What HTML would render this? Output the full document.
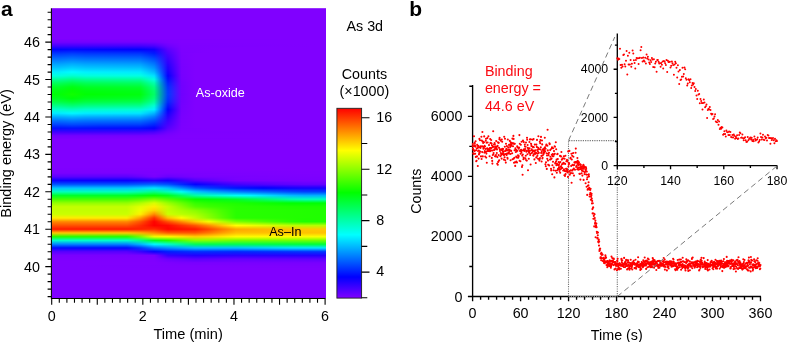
<!DOCTYPE html><html><head><meta charset="utf-8"><title>XPS As 3d depth profile</title>
<style>html,body{margin:0;padding:0;background:#fff}svg{display:block}text{font-family:"Liberation Sans", sans-serif;fill:#000}</style></head><body>
<svg width="787" height="342" viewBox="0 0 787 342">
<defs><linearGradient id="cb" x1="0" y1="0" x2="0" y2="1"><stop offset="0" stop-color="#ff0000"/><stop offset="0.2222" stop-color="#ffff00"/><stop offset="0.4444" stop-color="#00ff00"/><stop offset="0.6667" stop-color="#00ffff"/><stop offset="0.8889" stop-color="#0000ff"/><stop offset="1" stop-color="#8000ff"/></linearGradient>
<linearGradient id="g0"><stop offset="0.0239" stop-color="#7c00ff"/><stop offset="0.9718" stop-color="#8000ff"/></linearGradient><linearGradient id="g1"><stop offset="0.0239" stop-color="#7900ff"/><stop offset="0.3731" stop-color="#7a00ff"/><stop offset="0.4729" stop-color="#8000ff"/><stop offset="0.9718" stop-color="#8000ff"/></linearGradient><linearGradient id="g2"><stop offset="0.0239" stop-color="#7500ff"/><stop offset="0.3731" stop-color="#7700ff"/><stop offset="0.4729" stop-color="#8000ff"/><stop offset="0.9718" stop-color="#8000ff"/></linearGradient><linearGradient id="g3"><stop offset="0.0239" stop-color="#6f00ff"/><stop offset="0.3232" stop-color="#6f00ff"/><stop offset="0.3731" stop-color="#7100ff"/><stop offset="0.423" stop-color="#7b00ff"/><stop offset="0.4729" stop-color="#8000ff"/><stop offset="0.9718" stop-color="#8000ff"/></linearGradient><linearGradient id="g4"><stop offset="0.0239" stop-color="#6200ff"/><stop offset="0.3232" stop-color="#6200ff"/><stop offset="0.3731" stop-color="#6600ff"/><stop offset="0.423" stop-color="#7700ff"/><stop offset="0.4729" stop-color="#7f00ff"/><stop offset="0.9718" stop-color="#8000ff"/></linearGradient><linearGradient id="g5"><stop offset="0.0239" stop-color="#5500ff"/><stop offset="0.3232" stop-color="#5500ff"/><stop offset="0.3731" stop-color="#5b00ff"/><stop offset="0.423" stop-color="#7300ff"/><stop offset="0.4729" stop-color="#7f00ff"/><stop offset="0.9718" stop-color="#8000ff"/></linearGradient><linearGradient id="g6"><stop offset="0.0239" stop-color="#4800ff"/><stop offset="0.3232" stop-color="#4900ff"/><stop offset="0.3731" stop-color="#5000ff"/><stop offset="0.423" stop-color="#6f00ff"/><stop offset="0.4729" stop-color="#7e00ff"/><stop offset="0.9718" stop-color="#8000ff"/></linearGradient><linearGradient id="g7"><stop offset="0.0239" stop-color="#3801ff"/><stop offset="0.3232" stop-color="#3900ff"/><stop offset="0.3731" stop-color="#4200ff"/><stop offset="0.423" stop-color="#6b00ff"/><stop offset="0.4729" stop-color="#7e00ff"/><stop offset="0.9718" stop-color="#8000ff"/></linearGradient><linearGradient id="g8"><stop offset="0.0239" stop-color="#2602ff"/><stop offset="0.1236" stop-color="#2602ff"/><stop offset="0.3232" stop-color="#2701ff"/><stop offset="0.3731" stop-color="#3200ff"/><stop offset="0.423" stop-color="#6500ff"/><stop offset="0.4729" stop-color="#7e00ff"/><stop offset="0.7223" stop-color="#8000ff"/><stop offset="0.9718" stop-color="#8000ff"/></linearGradient><linearGradient id="g9"><stop offset="0.0239" stop-color="#1403ff"/><stop offset="0.0737" stop-color="#1406ff"/><stop offset="0.3232" stop-color="#1501ff"/><stop offset="0.3731" stop-color="#2200ff"/><stop offset="0.423" stop-color="#5f00ff"/><stop offset="0.4729" stop-color="#7d00ff"/><stop offset="0.6225" stop-color="#8000ff"/><stop offset="0.9718" stop-color="#8000ff"/></linearGradient><linearGradient id="g10"><stop offset="0.0239" stop-color="#0204ff"/><stop offset="0.0737" stop-color="#0209ff"/><stop offset="0.1735" stop-color="#0204ff"/><stop offset="0.3232" stop-color="#0202ff"/><stop offset="0.3731" stop-color="#1200ff"/><stop offset="0.423" stop-color="#5a00ff"/><stop offset="0.4729" stop-color="#7d00ff"/><stop offset="0.6225" stop-color="#8000ff"/><stop offset="0.9718" stop-color="#8000ff"/></linearGradient><linearGradient id="g11"><stop offset="0.0239" stop-color="#000fff"/><stop offset="0.0737" stop-color="#0015ff"/><stop offset="0.1735" stop-color="#000fff"/><stop offset="0.3232" stop-color="#000dff"/><stop offset="0.3731" stop-color="#0c06ff"/><stop offset="0.423" stop-color="#5600ff"/><stop offset="0.4729" stop-color="#7d00ff"/><stop offset="0.5726" stop-color="#8000ff"/><stop offset="0.9718" stop-color="#8000ff"/></linearGradient><linearGradient id="g12"><stop offset="0.0239" stop-color="#001cff"/><stop offset="0.0737" stop-color="#0022ff"/><stop offset="0.1735" stop-color="#001cff"/><stop offset="0.3232" stop-color="#001aff"/><stop offset="0.3731" stop-color="#080dff"/><stop offset="0.423" stop-color="#5200ff"/><stop offset="0.4729" stop-color="#7d00ff"/><stop offset="0.5726" stop-color="#8000ff"/><stop offset="0.9718" stop-color="#8000ff"/></linearGradient><linearGradient id="g13"><stop offset="0.0239" stop-color="#0029ff"/><stop offset="0.0737" stop-color="#002fff"/><stop offset="0.1236" stop-color="#002aff"/><stop offset="0.3232" stop-color="#0027ff"/><stop offset="0.3731" stop-color="#0414ff"/><stop offset="0.423" stop-color="#4e00ff"/><stop offset="0.4729" stop-color="#7c00ff"/><stop offset="0.5726" stop-color="#8000ff"/><stop offset="0.9718" stop-color="#8000ff"/></linearGradient><linearGradient id="g14"><stop offset="0.0239" stop-color="#0035ff"/><stop offset="0.0737" stop-color="#003cff"/><stop offset="0.1236" stop-color="#0036ff"/><stop offset="0.3232" stop-color="#0033ff"/><stop offset="0.3731" stop-color="#001bff"/><stop offset="0.423" stop-color="#4b00ff"/><stop offset="0.4729" stop-color="#7c00ff"/><stop offset="0.5228" stop-color="#8000ff"/><stop offset="0.9718" stop-color="#8000ff"/></linearGradient><linearGradient id="g15"><stop offset="0.0239" stop-color="#0040ff"/><stop offset="0.0737" stop-color="#0047ff"/><stop offset="0.1236" stop-color="#0041ff"/><stop offset="0.3232" stop-color="#003eff"/><stop offset="0.3731" stop-color="#0024ff"/><stop offset="0.423" stop-color="#4700ff"/><stop offset="0.4729" stop-color="#7c00ff"/><stop offset="0.5228" stop-color="#8000ff"/><stop offset="0.9718" stop-color="#8000ff"/></linearGradient><linearGradient id="g16"><stop offset="0.0239" stop-color="#004bff"/><stop offset="0.0737" stop-color="#0052ff"/><stop offset="0.1236" stop-color="#004cff"/><stop offset="0.3232" stop-color="#0048ff"/><stop offset="0.3731" stop-color="#002dff"/><stop offset="0.423" stop-color="#4400ff"/><stop offset="0.4729" stop-color="#7b00ff"/><stop offset="0.5228" stop-color="#8000ff"/><stop offset="0.9718" stop-color="#8000ff"/></linearGradient><linearGradient id="g17"><stop offset="0.0239" stop-color="#0055ff"/><stop offset="0.0737" stop-color="#005dff"/><stop offset="0.1236" stop-color="#0056ff"/><stop offset="0.3232" stop-color="#0053ff"/><stop offset="0.3731" stop-color="#0036ff"/><stop offset="0.423" stop-color="#4100ff"/><stop offset="0.4729" stop-color="#7b00ff"/><stop offset="0.5228" stop-color="#8000ff"/><stop offset="0.9718" stop-color="#8000ff"/></linearGradient><linearGradient id="g18"><stop offset="0.0239" stop-color="#0060ff"/><stop offset="0.0737" stop-color="#0068ff"/><stop offset="0.1236" stop-color="#0061ff"/><stop offset="0.3232" stop-color="#005dff"/><stop offset="0.3731" stop-color="#003fff"/><stop offset="0.423" stop-color="#3e00ff"/><stop offset="0.4729" stop-color="#7b00ff"/><stop offset="0.5228" stop-color="#8000ff"/><stop offset="0.9718" stop-color="#8000ff"/></linearGradient><linearGradient id="g19"><stop offset="0.0239" stop-color="#006aff"/><stop offset="0.0737" stop-color="#0072ff"/><stop offset="0.1236" stop-color="#006bff"/><stop offset="0.3232" stop-color="#0067ff"/><stop offset="0.3731" stop-color="#0048ff"/><stop offset="0.423" stop-color="#3b00ff"/><stop offset="0.4729" stop-color="#7b00ff"/><stop offset="0.5228" stop-color="#8000ff"/><stop offset="0.9718" stop-color="#8000ff"/></linearGradient><linearGradient id="g20"><stop offset="0.0239" stop-color="#0074ff"/><stop offset="0.0737" stop-color="#007dff"/><stop offset="0.1236" stop-color="#0075ff"/><stop offset="0.3232" stop-color="#0071ff"/><stop offset="0.3731" stop-color="#0050ff"/><stop offset="0.423" stop-color="#3800ff"/><stop offset="0.4729" stop-color="#7a00ff"/><stop offset="0.5228" stop-color="#8000ff"/><stop offset="0.9718" stop-color="#8000ff"/></linearGradient><linearGradient id="g21"><stop offset="0.0239" stop-color="#007eff"/><stop offset="0.0737" stop-color="#0087ff"/><stop offset="0.1236" stop-color="#007fff"/><stop offset="0.3232" stop-color="#007aff"/><stop offset="0.3731" stop-color="#0059ff"/><stop offset="0.423" stop-color="#3500ff"/><stop offset="0.4729" stop-color="#7a00ff"/><stop offset="0.5228" stop-color="#8000ff"/><stop offset="0.9718" stop-color="#8000ff"/></linearGradient><linearGradient id="g22"><stop offset="0.0239" stop-color="#0088ff"/><stop offset="0.0737" stop-color="#0092ff"/><stop offset="0.1236" stop-color="#008aff"/><stop offset="0.3232" stop-color="#0084ff"/><stop offset="0.3731" stop-color="#0061ff"/><stop offset="0.423" stop-color="#3200ff"/><stop offset="0.4729" stop-color="#7a00ff"/><stop offset="0.5228" stop-color="#8000ff"/><stop offset="0.9718" stop-color="#8000ff"/></linearGradient><linearGradient id="g23"><stop offset="0.0239" stop-color="#0092ff"/><stop offset="0.0737" stop-color="#009cff"/><stop offset="0.1236" stop-color="#0094ff"/><stop offset="0.3232" stop-color="#008eff"/><stop offset="0.3731" stop-color="#006aff"/><stop offset="0.423" stop-color="#2f00ff"/><stop offset="0.4729" stop-color="#7a00ff"/><stop offset="0.5228" stop-color="#8000ff"/><stop offset="0.9718" stop-color="#8000ff"/></linearGradient><linearGradient id="g24"><stop offset="0.0239" stop-color="#009cff"/><stop offset="0.0737" stop-color="#00a7ff"/><stop offset="0.1236" stop-color="#009eff"/><stop offset="0.3232" stop-color="#0098ff"/><stop offset="0.3731" stop-color="#0072ff"/><stop offset="0.423" stop-color="#2c00ff"/><stop offset="0.4729" stop-color="#7900ff"/><stop offset="0.5228" stop-color="#8000ff"/><stop offset="0.9718" stop-color="#8000ff"/></linearGradient><linearGradient id="g25"><stop offset="0.0239" stop-color="#00a6ff"/><stop offset="0.0737" stop-color="#00b1ff"/><stop offset="0.1236" stop-color="#00a8ff"/><stop offset="0.3232" stop-color="#00a2ff"/><stop offset="0.3731" stop-color="#007aff"/><stop offset="0.423" stop-color="#2800ff"/><stop offset="0.4729" stop-color="#7900ff"/><stop offset="0.5228" stop-color="#8000ff"/><stop offset="0.9718" stop-color="#8000ff"/></linearGradient><linearGradient id="g26"><stop offset="0.0239" stop-color="#00afff"/><stop offset="0.0737" stop-color="#00baff"/><stop offset="0.1236" stop-color="#00b1ff"/><stop offset="0.3232" stop-color="#00abff"/><stop offset="0.3731" stop-color="#0082ff"/><stop offset="0.423" stop-color="#2600ff"/><stop offset="0.4729" stop-color="#7900ff"/><stop offset="0.5228" stop-color="#8000ff"/><stop offset="0.9718" stop-color="#8000ff"/></linearGradient><linearGradient id="g27"><stop offset="0.0239" stop-color="#00b8ff"/><stop offset="0.0737" stop-color="#00c4ff"/><stop offset="0.1236" stop-color="#00baff"/><stop offset="0.3232" stop-color="#00b4ff"/><stop offset="0.3731" stop-color="#008aff"/><stop offset="0.423" stop-color="#2300ff"/><stop offset="0.4729" stop-color="#7800ff"/><stop offset="0.5228" stop-color="#8000ff"/><stop offset="0.9718" stop-color="#8000ff"/></linearGradient><linearGradient id="g28"><stop offset="0.0239" stop-color="#00c1ff"/><stop offset="0.0737" stop-color="#00cdff"/><stop offset="0.1236" stop-color="#00c3ff"/><stop offset="0.3232" stop-color="#00bdff"/><stop offset="0.3731" stop-color="#0091ff"/><stop offset="0.423" stop-color="#2000ff"/><stop offset="0.4729" stop-color="#7800ff"/><stop offset="0.5228" stop-color="#8000ff"/><stop offset="0.9718" stop-color="#8000ff"/></linearGradient><linearGradient id="g29"><stop offset="0.0239" stop-color="#00cbff"/><stop offset="0.0737" stop-color="#00d7ff"/><stop offset="0.1236" stop-color="#00cdff"/><stop offset="0.3232" stop-color="#00c7ff"/><stop offset="0.3731" stop-color="#0099ff"/><stop offset="0.423" stop-color="#1e00ff"/><stop offset="0.4729" stop-color="#7800ff"/><stop offset="0.5228" stop-color="#8000ff"/><stop offset="0.9718" stop-color="#8000ff"/></linearGradient><linearGradient id="g30"><stop offset="0.0239" stop-color="#00d4ff"/><stop offset="0.0737" stop-color="#00e1ff"/><stop offset="0.1236" stop-color="#00d6ff"/><stop offset="0.3232" stop-color="#00d0ff"/><stop offset="0.3731" stop-color="#00a2ff"/><stop offset="0.423" stop-color="#1b00ff"/><stop offset="0.4729" stop-color="#7800ff"/><stop offset="0.5228" stop-color="#8000ff"/><stop offset="0.9718" stop-color="#8000ff"/></linearGradient><linearGradient id="g31"><stop offset="0.0239" stop-color="#00deff"/><stop offset="0.0737" stop-color="#00ebff"/><stop offset="0.1236" stop-color="#00e0ff"/><stop offset="0.3232" stop-color="#00daff"/><stop offset="0.3731" stop-color="#00aaff"/><stop offset="0.423" stop-color="#1800ff"/><stop offset="0.4729" stop-color="#7700ff"/><stop offset="0.5228" stop-color="#8000ff"/><stop offset="0.9718" stop-color="#8000ff"/></linearGradient><linearGradient id="g32"><stop offset="0.0239" stop-color="#00e8ff"/><stop offset="0.0737" stop-color="#00f6ff"/><stop offset="0.1236" stop-color="#00eaff"/><stop offset="0.3232" stop-color="#00e3ff"/><stop offset="0.3731" stop-color="#00b3ff"/><stop offset="0.423" stop-color="#1500ff"/><stop offset="0.4729" stop-color="#7700ff"/><stop offset="0.5228" stop-color="#8000ff"/><stop offset="0.9718" stop-color="#8000ff"/></linearGradient><linearGradient id="g33"><stop offset="0.0239" stop-color="#00f0fb"/><stop offset="0.0737" stop-color="#00fcfa"/><stop offset="0.1236" stop-color="#00f2fb"/><stop offset="0.3232" stop-color="#00ebfc"/><stop offset="0.3731" stop-color="#00bdff"/><stop offset="0.423" stop-color="#1100ff"/><stop offset="0.4729" stop-color="#7700ff"/><stop offset="0.5228" stop-color="#8000ff"/><stop offset="0.9718" stop-color="#8000ff"/></linearGradient><linearGradient id="g34"><stop offset="0.0239" stop-color="#00f4f3"/><stop offset="0.0737" stop-color="#00fded"/><stop offset="0.1236" stop-color="#00f6f2"/><stop offset="0.3232" stop-color="#00f1f5"/><stop offset="0.3731" stop-color="#00c8ff"/><stop offset="0.423" stop-color="#0e00ff"/><stop offset="0.4729" stop-color="#7700ff"/><stop offset="0.5228" stop-color="#8000ff"/><stop offset="0.9718" stop-color="#8000ff"/></linearGradient><linearGradient id="g35"><stop offset="0.0239" stop-color="#00f9ea"/><stop offset="0.0737" stop-color="#00fee1"/><stop offset="0.1236" stop-color="#00fae8"/><stop offset="0.3232" stop-color="#00f7ee"/><stop offset="0.3731" stop-color="#00d3ff"/><stop offset="0.423" stop-color="#0a00ff"/><stop offset="0.4729" stop-color="#7600ff"/><stop offset="0.5228" stop-color="#8000ff"/><stop offset="0.9718" stop-color="#8000ff"/></linearGradient><linearGradient id="g36"><stop offset="0.0239" stop-color="#00fee2"/><stop offset="0.0737" stop-color="#00ffd4"/><stop offset="0.1236" stop-color="#00fedf"/><stop offset="0.3232" stop-color="#00fde6"/><stop offset="0.3731" stop-color="#00deff"/><stop offset="0.423" stop-color="#0600ff"/><stop offset="0.4729" stop-color="#7600ff"/><stop offset="0.5228" stop-color="#8000ff"/><stop offset="0.9718" stop-color="#8000ff"/></linearGradient><linearGradient id="g37"><stop offset="0.0239" stop-color="#00ffd2"/><stop offset="0.0737" stop-color="#00ffc2"/><stop offset="0.1236" stop-color="#00ffcf"/><stop offset="0.3232" stop-color="#00ffd7"/><stop offset="0.3731" stop-color="#00e7f9"/><stop offset="0.423" stop-color="#0403ff"/><stop offset="0.4729" stop-color="#7600ff"/><stop offset="0.5228" stop-color="#8000ff"/><stop offset="0.9718" stop-color="#8000ff"/></linearGradient><linearGradient id="g38"><stop offset="0.0239" stop-color="#00ffbe"/><stop offset="0.0737" stop-color="#00ffae"/><stop offset="0.1236" stop-color="#00ffbb"/><stop offset="0.3232" stop-color="#00ffc3"/><stop offset="0.3731" stop-color="#00eff0"/><stop offset="0.423" stop-color="#0308ff"/><stop offset="0.4729" stop-color="#7500ff"/><stop offset="0.5228" stop-color="#8000ff"/><stop offset="0.9718" stop-color="#8000ff"/></linearGradient><linearGradient id="g39"><stop offset="0.0239" stop-color="#00ffaa"/><stop offset="0.0737" stop-color="#00ff99"/><stop offset="0.1236" stop-color="#00ffa7"/><stop offset="0.3232" stop-color="#00ffb0"/><stop offset="0.3731" stop-color="#00f7e7"/><stop offset="0.423" stop-color="#010cff"/><stop offset="0.4729" stop-color="#7500ff"/><stop offset="0.5228" stop-color="#8000ff"/><stop offset="0.9718" stop-color="#8000ff"/></linearGradient><linearGradient id="g40"><stop offset="0.0239" stop-color="#00ff96"/><stop offset="0.0737" stop-color="#00ff84"/><stop offset="0.1236" stop-color="#00ff93"/><stop offset="0.3232" stop-color="#00ff9c"/><stop offset="0.3731" stop-color="#00fedf"/><stop offset="0.423" stop-color="#0011ff"/><stop offset="0.4729" stop-color="#7400ff"/><stop offset="0.5228" stop-color="#8000ff"/><stop offset="0.9718" stop-color="#8000ff"/></linearGradient><linearGradient id="g41"><stop offset="0.0239" stop-color="#00ff86"/><stop offset="0.0737" stop-color="#00ff73"/><stop offset="0.1236" stop-color="#00ff83"/><stop offset="0.3232" stop-color="#00ff8c"/><stop offset="0.3731" stop-color="#00ffd1"/><stop offset="0.423" stop-color="#0015ff"/><stop offset="0.4729" stop-color="#7400ff"/><stop offset="0.5228" stop-color="#8000ff"/><stop offset="0.9718" stop-color="#8000ff"/></linearGradient><linearGradient id="g42"><stop offset="0.0239" stop-color="#00ff75"/><stop offset="0.0737" stop-color="#00ff62"/><stop offset="0.1236" stop-color="#00ff72"/><stop offset="0.3232" stop-color="#00ff7b"/><stop offset="0.3731" stop-color="#00ffc3"/><stop offset="0.423" stop-color="#001aff"/><stop offset="0.4729" stop-color="#7300ff"/><stop offset="0.5228" stop-color="#8000ff"/><stop offset="0.9718" stop-color="#8000ff"/></linearGradient><linearGradient id="g43"><stop offset="0.0239" stop-color="#00ff65"/><stop offset="0.0737" stop-color="#00ff51"/><stop offset="0.1236" stop-color="#00ff61"/><stop offset="0.3232" stop-color="#00ff6b"/><stop offset="0.3731" stop-color="#00ffb4"/><stop offset="0.423" stop-color="#001fff"/><stop offset="0.4729" stop-color="#7200ff"/><stop offset="0.5228" stop-color="#8000ff"/><stop offset="0.9718" stop-color="#8000ff"/></linearGradient><linearGradient id="g44"><stop offset="0.0239" stop-color="#00ff56"/><stop offset="0.0737" stop-color="#00ff41"/><stop offset="0.1236" stop-color="#00ff52"/><stop offset="0.3232" stop-color="#00ff5c"/><stop offset="0.3731" stop-color="#00ffa7"/><stop offset="0.423" stop-color="#0024ff"/><stop offset="0.4729" stop-color="#7200ff"/><stop offset="0.5228" stop-color="#8000ff"/><stop offset="0.9718" stop-color="#8000ff"/></linearGradient><linearGradient id="g45"><stop offset="0.0239" stop-color="#00ff49"/><stop offset="0.0737" stop-color="#00ff34"/><stop offset="0.1236" stop-color="#00ff45"/><stop offset="0.3232" stop-color="#00ff50"/><stop offset="0.3731" stop-color="#00ff9d"/><stop offset="0.423" stop-color="#0027ff"/><stop offset="0.4729" stop-color="#7200ff"/><stop offset="0.5228" stop-color="#8000ff"/><stop offset="0.9718" stop-color="#8000ff"/></linearGradient><linearGradient id="g46"><stop offset="0.0239" stop-color="#00ff3c"/><stop offset="0.0737" stop-color="#00ff27"/><stop offset="0.1236" stop-color="#00ff39"/><stop offset="0.3232" stop-color="#00ff44"/><stop offset="0.3731" stop-color="#00ff92"/><stop offset="0.423" stop-color="#002bff"/><stop offset="0.4729" stop-color="#7100ff"/><stop offset="0.5228" stop-color="#8000ff"/><stop offset="0.9718" stop-color="#8000ff"/></linearGradient><linearGradient id="g47"><stop offset="0.0239" stop-color="#00ff30"/><stop offset="0.0737" stop-color="#00ff1a"/><stop offset="0.1236" stop-color="#00ff2d"/><stop offset="0.2733" stop-color="#00ff34"/><stop offset="0.3232" stop-color="#00ff38"/><stop offset="0.3731" stop-color="#00ff88"/><stop offset="0.423" stop-color="#002fff"/><stop offset="0.4729" stop-color="#7100ff"/><stop offset="0.5228" stop-color="#8000ff"/><stop offset="0.9718" stop-color="#8000ff"/></linearGradient><linearGradient id="g48"><stop offset="0.0239" stop-color="#00ff26"/><stop offset="0.0737" stop-color="#01ff11"/><stop offset="0.1236" stop-color="#00ff23"/><stop offset="0.2733" stop-color="#00ff2a"/><stop offset="0.3232" stop-color="#00ff2e"/><stop offset="0.3731" stop-color="#00ff7f"/><stop offset="0.423" stop-color="#0032ff"/><stop offset="0.4729" stop-color="#7100ff"/><stop offset="0.5228" stop-color="#8000ff"/><stop offset="0.9718" stop-color="#8000ff"/></linearGradient><linearGradient id="g49"><stop offset="0.0239" stop-color="#00ff20"/><stop offset="0.0737" stop-color="#02ff0c"/><stop offset="0.1236" stop-color="#00ff1c"/><stop offset="0.2733" stop-color="#00ff23"/><stop offset="0.3232" stop-color="#00ff27"/><stop offset="0.3731" stop-color="#00ff7a"/><stop offset="0.423" stop-color="#0034ff"/><stop offset="0.4729" stop-color="#7100ff"/><stop offset="0.5228" stop-color="#8000ff"/><stop offset="0.9718" stop-color="#8000ff"/></linearGradient><linearGradient id="g50"><stop offset="0.0239" stop-color="#00ff19"/><stop offset="0.0737" stop-color="#04ff07"/><stop offset="0.1236" stop-color="#00ff16"/><stop offset="0.3232" stop-color="#00ff21"/><stop offset="0.3731" stop-color="#00ff74"/><stop offset="0.423" stop-color="#0036ff"/><stop offset="0.4729" stop-color="#7100ff"/><stop offset="0.5228" stop-color="#8000ff"/><stop offset="0.9718" stop-color="#8000ff"/></linearGradient><linearGradient id="g51"><stop offset="0.0239" stop-color="#00ff13"/><stop offset="0.0737" stop-color="#06ff01"/><stop offset="0.1236" stop-color="#00ff0f"/><stop offset="0.3232" stop-color="#00ff1a"/><stop offset="0.3731" stop-color="#00ff6f"/><stop offset="0.423" stop-color="#0037ff"/><stop offset="0.4729" stop-color="#7100ff"/><stop offset="0.5228" stop-color="#8000ff"/><stop offset="0.9718" stop-color="#8000ff"/></linearGradient><linearGradient id="g52"><stop offset="0.0239" stop-color="#00ff0f"/><stop offset="0.0737" stop-color="#08ff00"/><stop offset="0.1236" stop-color="#00ff0b"/><stop offset="0.3232" stop-color="#00ff16"/><stop offset="0.3731" stop-color="#00ff6b"/><stop offset="0.423" stop-color="#0039ff"/><stop offset="0.4729" stop-color="#7100ff"/><stop offset="0.5228" stop-color="#8000ff"/><stop offset="0.9718" stop-color="#8000ff"/></linearGradient><linearGradient id="g53"><stop offset="0.0239" stop-color="#00ff0d"/><stop offset="0.0737" stop-color="#0aff00"/><stop offset="0.1236" stop-color="#00ff09"/><stop offset="0.3232" stop-color="#00ff14"/><stop offset="0.3731" stop-color="#00ff69"/><stop offset="0.423" stop-color="#0039ff"/><stop offset="0.4729" stop-color="#7100ff"/><stop offset="0.5228" stop-color="#8000ff"/><stop offset="0.9718" stop-color="#8000ff"/></linearGradient><linearGradient id="g54"><stop offset="0.0239" stop-color="#00ff0a"/><stop offset="0.0737" stop-color="#0dff00"/><stop offset="0.1236" stop-color="#00ff06"/><stop offset="0.3232" stop-color="#00ff12"/><stop offset="0.3731" stop-color="#00ff67"/><stop offset="0.423" stop-color="#003aff"/><stop offset="0.4729" stop-color="#7000ff"/><stop offset="0.5228" stop-color="#8000ff"/><stop offset="0.9718" stop-color="#8000ff"/></linearGradient><linearGradient id="g55"><stop offset="0.0239" stop-color="#00ff08"/><stop offset="0.0737" stop-color="#0fff00"/><stop offset="0.1236" stop-color="#00ff04"/><stop offset="0.3232" stop-color="#00ff10"/><stop offset="0.3731" stop-color="#00ff65"/><stop offset="0.423" stop-color="#003bff"/><stop offset="0.4729" stop-color="#7000ff"/><stop offset="0.5228" stop-color="#8000ff"/><stop offset="0.9718" stop-color="#8000ff"/></linearGradient><linearGradient id="g56"><stop offset="0.0239" stop-color="#00ff0d"/><stop offset="0.0737" stop-color="#0bff02"/><stop offset="0.1236" stop-color="#00ff0a"/><stop offset="0.2733" stop-color="#00ff11"/><stop offset="0.3232" stop-color="#00ff15"/><stop offset="0.3731" stop-color="#00ff6a"/><stop offset="0.423" stop-color="#0039ff"/><stop offset="0.4729" stop-color="#7000ff"/><stop offset="0.5228" stop-color="#8000ff"/><stop offset="0.9718" stop-color="#8000ff"/></linearGradient><linearGradient id="g57"><stop offset="0.0239" stop-color="#00ff13"/><stop offset="0.0737" stop-color="#07ff04"/><stop offset="0.1236" stop-color="#00ff10"/><stop offset="0.2733" stop-color="#00ff17"/><stop offset="0.3232" stop-color="#00ff1b"/><stop offset="0.3731" stop-color="#00ff6f"/><stop offset="0.423" stop-color="#0038ff"/><stop offset="0.4729" stop-color="#7100ff"/><stop offset="0.5228" stop-color="#8000ff"/><stop offset="0.9718" stop-color="#8000ff"/></linearGradient><linearGradient id="g58"><stop offset="0.0239" stop-color="#00ff19"/><stop offset="0.0737" stop-color="#03ff06"/><stop offset="0.1236" stop-color="#00ff15"/><stop offset="0.2733" stop-color="#00ff1d"/><stop offset="0.3232" stop-color="#00ff21"/><stop offset="0.3731" stop-color="#00ff74"/><stop offset="0.423" stop-color="#0036ff"/><stop offset="0.4729" stop-color="#7100ff"/><stop offset="0.5228" stop-color="#8000ff"/><stop offset="0.9718" stop-color="#8000ff"/></linearGradient><linearGradient id="g59"><stop offset="0.0239" stop-color="#00ff20"/><stop offset="0.0737" stop-color="#00ff0a"/><stop offset="0.1236" stop-color="#00ff1d"/><stop offset="0.2733" stop-color="#00ff24"/><stop offset="0.3232" stop-color="#00ff28"/><stop offset="0.3731" stop-color="#00ff7a"/><stop offset="0.423" stop-color="#0034ff"/><stop offset="0.4729" stop-color="#7100ff"/><stop offset="0.5228" stop-color="#8000ff"/><stop offset="0.9718" stop-color="#8000ff"/></linearGradient><linearGradient id="g60"><stop offset="0.0239" stop-color="#00ff2b"/><stop offset="0.0737" stop-color="#00ff15"/><stop offset="0.1236" stop-color="#00ff28"/><stop offset="0.2733" stop-color="#00ff2f"/><stop offset="0.3232" stop-color="#00ff33"/><stop offset="0.3731" stop-color="#00ff84"/><stop offset="0.423" stop-color="#0031ff"/><stop offset="0.4729" stop-color="#7100ff"/><stop offset="0.5228" stop-color="#8000ff"/><stop offset="0.9718" stop-color="#8000ff"/></linearGradient><linearGradient id="g61"><stop offset="0.0239" stop-color="#00ff37"/><stop offset="0.0737" stop-color="#00ff21"/><stop offset="0.1236" stop-color="#00ff33"/><stop offset="0.3232" stop-color="#00ff3e"/><stop offset="0.3731" stop-color="#00ff8d"/><stop offset="0.423" stop-color="#002dff"/><stop offset="0.4729" stop-color="#7200ff"/><stop offset="0.5228" stop-color="#8000ff"/><stop offset="0.9718" stop-color="#8000ff"/></linearGradient><linearGradient id="g62"><stop offset="0.0239" stop-color="#00ff42"/><stop offset="0.0737" stop-color="#00ff2d"/><stop offset="0.1236" stop-color="#00ff3e"/><stop offset="0.3232" stop-color="#00ff49"/><stop offset="0.3731" stop-color="#00ff97"/><stop offset="0.423" stop-color="#002aff"/><stop offset="0.4729" stop-color="#7200ff"/><stop offset="0.5228" stop-color="#8000ff"/><stop offset="0.9718" stop-color="#8000ff"/></linearGradient><linearGradient id="g63"><stop offset="0.0239" stop-color="#00ff50"/><stop offset="0.0737" stop-color="#00ff3c"/><stop offset="0.1236" stop-color="#00ff4c"/><stop offset="0.3232" stop-color="#00ff57"/><stop offset="0.3731" stop-color="#00ffa3"/><stop offset="0.423" stop-color="#0026ff"/><stop offset="0.4729" stop-color="#7200ff"/><stop offset="0.5228" stop-color="#8000ff"/><stop offset="0.9718" stop-color="#8000ff"/></linearGradient><linearGradient id="g64"><stop offset="0.0239" stop-color="#00ff61"/><stop offset="0.0737" stop-color="#00ff4d"/><stop offset="0.1236" stop-color="#00ff5d"/><stop offset="0.3232" stop-color="#00ff68"/><stop offset="0.3731" stop-color="#00ffb1"/><stop offset="0.423" stop-color="#0020ff"/><stop offset="0.4729" stop-color="#7300ff"/><stop offset="0.5228" stop-color="#8000ff"/><stop offset="0.9718" stop-color="#8000ff"/></linearGradient><linearGradient id="g65"><stop offset="0.0239" stop-color="#00ff72"/><stop offset="0.0737" stop-color="#00ff5f"/><stop offset="0.1236" stop-color="#00ff6e"/><stop offset="0.3232" stop-color="#00ff78"/><stop offset="0.3731" stop-color="#00ffc0"/><stop offset="0.423" stop-color="#001bff"/><stop offset="0.4729" stop-color="#7300ff"/><stop offset="0.5228" stop-color="#8000ff"/><stop offset="0.9718" stop-color="#8000ff"/></linearGradient><linearGradient id="g66"><stop offset="0.0239" stop-color="#00ff83"/><stop offset="0.0737" stop-color="#00ff70"/><stop offset="0.1236" stop-color="#00ff80"/><stop offset="0.3232" stop-color="#00ff89"/><stop offset="0.3731" stop-color="#00ffce"/><stop offset="0.423" stop-color="#0016ff"/><stop offset="0.4729" stop-color="#7400ff"/><stop offset="0.5228" stop-color="#8000ff"/><stop offset="0.9718" stop-color="#8000ff"/></linearGradient><linearGradient id="g67"><stop offset="0.0239" stop-color="#00ff95"/><stop offset="0.0737" stop-color="#00ff83"/><stop offset="0.1236" stop-color="#00ff92"/><stop offset="0.3232" stop-color="#00ff9b"/><stop offset="0.3731" stop-color="#00fcdb"/><stop offset="0.423" stop-color="#0011ff"/><stop offset="0.4729" stop-color="#7400ff"/><stop offset="0.5228" stop-color="#8000ff"/><stop offset="0.9718" stop-color="#8000ff"/></linearGradient><linearGradient id="g68"><stop offset="0.0239" stop-color="#00ffa8"/><stop offset="0.0737" stop-color="#00ff97"/><stop offset="0.1236" stop-color="#00ffa5"/><stop offset="0.3232" stop-color="#00ffae"/><stop offset="0.3731" stop-color="#00f8e7"/><stop offset="0.423" stop-color="#000cff"/><stop offset="0.4729" stop-color="#7400ff"/><stop offset="0.5228" stop-color="#8000ff"/><stop offset="0.9718" stop-color="#8000ff"/></linearGradient><linearGradient id="g69"><stop offset="0.0239" stop-color="#00ffba"/><stop offset="0.0737" stop-color="#00ffaa"/><stop offset="0.1236" stop-color="#00ffb8"/><stop offset="0.3232" stop-color="#00ffc0"/><stop offset="0.3731" stop-color="#00f5f3"/><stop offset="0.423" stop-color="#0006ff"/><stop offset="0.4729" stop-color="#7500ff"/><stop offset="0.5228" stop-color="#8000ff"/><stop offset="0.9718" stop-color="#8000ff"/></linearGradient><linearGradient id="g70"><stop offset="0.0239" stop-color="#00ffcd"/><stop offset="0.0737" stop-color="#00ffbd"/><stop offset="0.1236" stop-color="#00ffcb"/><stop offset="0.3232" stop-color="#00ffd3"/><stop offset="0.3731" stop-color="#00f1ff"/><stop offset="0.423" stop-color="#0001ff"/><stop offset="0.4729" stop-color="#7500ff"/><stop offset="0.5228" stop-color="#8000ff"/><stop offset="0.9718" stop-color="#8000ff"/></linearGradient><linearGradient id="g71"><stop offset="0.0239" stop-color="#00fada"/><stop offset="0.0737" stop-color="#00fdcf"/><stop offset="0.1236" stop-color="#00fad9"/><stop offset="0.3232" stop-color="#00f9df"/><stop offset="0.3731" stop-color="#00e1ff"/><stop offset="0.423" stop-color="#0501ff"/><stop offset="0.4729" stop-color="#7600ff"/><stop offset="0.5228" stop-color="#8000ff"/><stop offset="0.9718" stop-color="#8000ff"/></linearGradient><linearGradient id="g72"><stop offset="0.0239" stop-color="#00f5e8"/><stop offset="0.0737" stop-color="#00fce0"/><stop offset="0.1236" stop-color="#00f6e7"/><stop offset="0.3232" stop-color="#00f2eb"/><stop offset="0.3731" stop-color="#00d1ff"/><stop offset="0.423" stop-color="#0b00ff"/><stop offset="0.4729" stop-color="#7600ff"/><stop offset="0.5228" stop-color="#8000ff"/><stop offset="0.9718" stop-color="#8000ff"/></linearGradient><linearGradient id="g73"><stop offset="0.0239" stop-color="#00f0f5"/><stop offset="0.0737" stop-color="#00faf2"/><stop offset="0.1236" stop-color="#00f1f5"/><stop offset="0.3232" stop-color="#00ecf6"/><stop offset="0.3731" stop-color="#00c2ff"/><stop offset="0.423" stop-color="#1000ff"/><stop offset="0.4729" stop-color="#7700ff"/><stop offset="0.5228" stop-color="#8000ff"/><stop offset="0.9718" stop-color="#8000ff"/></linearGradient><linearGradient id="g74"><stop offset="0.0239" stop-color="#00e7ff"/><stop offset="0.0737" stop-color="#00f4ff"/><stop offset="0.1236" stop-color="#00e9ff"/><stop offset="0.3232" stop-color="#00e2ff"/><stop offset="0.3731" stop-color="#00b2ff"/><stop offset="0.423" stop-color="#1500ff"/><stop offset="0.4729" stop-color="#7700ff"/><stop offset="0.5228" stop-color="#8000ff"/><stop offset="0.9718" stop-color="#8000ff"/></linearGradient><linearGradient id="g75"><stop offset="0.0239" stop-color="#00d5ff"/><stop offset="0.0737" stop-color="#00e2ff"/><stop offset="0.1236" stop-color="#00d7ff"/><stop offset="0.3232" stop-color="#00d1ff"/><stop offset="0.3731" stop-color="#00a3ff"/><stop offset="0.423" stop-color="#1b00ff"/><stop offset="0.4729" stop-color="#7800ff"/><stop offset="0.5228" stop-color="#8000ff"/><stop offset="0.9718" stop-color="#8000ff"/></linearGradient><linearGradient id="g76"><stop offset="0.0239" stop-color="#00c4ff"/><stop offset="0.0737" stop-color="#00cfff"/><stop offset="0.1236" stop-color="#00c6ff"/><stop offset="0.3232" stop-color="#00bfff"/><stop offset="0.3731" stop-color="#0094ff"/><stop offset="0.423" stop-color="#2000ff"/><stop offset="0.4729" stop-color="#7800ff"/><stop offset="0.5228" stop-color="#8000ff"/><stop offset="0.9718" stop-color="#8000ff"/></linearGradient><linearGradient id="g77"><stop offset="0.0239" stop-color="#00b2ff"/><stop offset="0.0737" stop-color="#00bdff"/><stop offset="0.1236" stop-color="#00b4ff"/><stop offset="0.3232" stop-color="#00aeff"/><stop offset="0.3731" stop-color="#0084ff"/><stop offset="0.423" stop-color="#2500ff"/><stop offset="0.4729" stop-color="#7900ff"/><stop offset="0.5228" stop-color="#8000ff"/><stop offset="0.9718" stop-color="#8000ff"/></linearGradient><linearGradient id="g78"><stop offset="0.0239" stop-color="#00a1ff"/><stop offset="0.0737" stop-color="#00acff"/><stop offset="0.1236" stop-color="#00a3ff"/><stop offset="0.3232" stop-color="#009dff"/><stop offset="0.3731" stop-color="#0077ff"/><stop offset="0.423" stop-color="#2a00ff"/><stop offset="0.4729" stop-color="#7900ff"/><stop offset="0.5228" stop-color="#8000ff"/><stop offset="0.9718" stop-color="#8000ff"/></linearGradient><linearGradient id="g79"><stop offset="0.0239" stop-color="#0092ff"/><stop offset="0.0737" stop-color="#009dff"/><stop offset="0.1236" stop-color="#0094ff"/><stop offset="0.3232" stop-color="#008fff"/><stop offset="0.3731" stop-color="#006aff"/><stop offset="0.423" stop-color="#2e00ff"/><stop offset="0.4729" stop-color="#7900ff"/><stop offset="0.5228" stop-color="#8000ff"/><stop offset="0.9718" stop-color="#8000ff"/></linearGradient><linearGradient id="g80"><stop offset="0.0239" stop-color="#0083ff"/><stop offset="0.0737" stop-color="#008dff"/><stop offset="0.1236" stop-color="#0085ff"/><stop offset="0.3232" stop-color="#0080ff"/><stop offset="0.3731" stop-color="#005dff"/><stop offset="0.423" stop-color="#3300ff"/><stop offset="0.4729" stop-color="#7a00ff"/><stop offset="0.5228" stop-color="#8000ff"/><stop offset="0.9718" stop-color="#8000ff"/></linearGradient><linearGradient id="g81"><stop offset="0.0239" stop-color="#0074ff"/><stop offset="0.0737" stop-color="#007dff"/><stop offset="0.1236" stop-color="#0076ff"/><stop offset="0.3232" stop-color="#0071ff"/><stop offset="0.3731" stop-color="#0051ff"/><stop offset="0.423" stop-color="#3700ff"/><stop offset="0.4729" stop-color="#7a00ff"/><stop offset="0.5228" stop-color="#8000ff"/><stop offset="0.9718" stop-color="#8000ff"/></linearGradient><linearGradient id="g82"><stop offset="0.0239" stop-color="#0067ff"/><stop offset="0.0737" stop-color="#0070ff"/><stop offset="0.1236" stop-color="#0069ff"/><stop offset="0.3232" stop-color="#0064ff"/><stop offset="0.3731" stop-color="#0046ff"/><stop offset="0.423" stop-color="#3b00ff"/><stop offset="0.4729" stop-color="#7a00ff"/><stop offset="0.5228" stop-color="#8000ff"/><stop offset="0.9718" stop-color="#8000ff"/></linearGradient><linearGradient id="g83"><stop offset="0.0239" stop-color="#005bff"/><stop offset="0.0737" stop-color="#0063ff"/><stop offset="0.1236" stop-color="#005dff"/><stop offset="0.3232" stop-color="#0058ff"/><stop offset="0.3731" stop-color="#003bff"/><stop offset="0.423" stop-color="#3f00ff"/><stop offset="0.4729" stop-color="#7a00ff"/><stop offset="0.5228" stop-color="#8000ff"/><stop offset="0.9718" stop-color="#8000ff"/></linearGradient><linearGradient id="g84"><stop offset="0.0239" stop-color="#004eff"/><stop offset="0.0737" stop-color="#0056ff"/><stop offset="0.1236" stop-color="#0050ff"/><stop offset="0.3232" stop-color="#004cff"/><stop offset="0.3731" stop-color="#0030ff"/><stop offset="0.423" stop-color="#4200ff"/><stop offset="0.4729" stop-color="#7b00ff"/><stop offset="0.5228" stop-color="#8000ff"/><stop offset="0.9718" stop-color="#8000ff"/></linearGradient><linearGradient id="g85"><stop offset="0.0239" stop-color="#0042ff"/><stop offset="0.0737" stop-color="#004aff"/><stop offset="0.1735" stop-color="#0042ff"/><stop offset="0.3232" stop-color="#0040ff"/><stop offset="0.3731" stop-color="#0026ff"/><stop offset="0.423" stop-color="#4600ff"/><stop offset="0.4729" stop-color="#7b00ff"/><stop offset="0.5228" stop-color="#8000ff"/><stop offset="0.9718" stop-color="#8000ff"/></linearGradient><linearGradient id="g86"><stop offset="0.0239" stop-color="#0034ff"/><stop offset="0.0737" stop-color="#003bff"/><stop offset="0.1735" stop-color="#0034ff"/><stop offset="0.3232" stop-color="#0032ff"/><stop offset="0.3731" stop-color="#021cff"/><stop offset="0.423" stop-color="#4a00ff"/><stop offset="0.4729" stop-color="#7b00ff"/><stop offset="0.5228" stop-color="#8000ff"/><stop offset="0.9718" stop-color="#8000ff"/></linearGradient><linearGradient id="g87"><stop offset="0.0239" stop-color="#0026ff"/><stop offset="0.0737" stop-color="#002dff"/><stop offset="0.1735" stop-color="#0026ff"/><stop offset="0.3232" stop-color="#0024ff"/><stop offset="0.3731" stop-color="#0311ff"/><stop offset="0.423" stop-color="#4f00ff"/><stop offset="0.4729" stop-color="#7c00ff"/><stop offset="0.5228" stop-color="#8000ff"/><stop offset="0.9718" stop-color="#8000ff"/></linearGradient><linearGradient id="g88"><stop offset="0.0239" stop-color="#0019ff"/><stop offset="0.0737" stop-color="#001eff"/><stop offset="0.1735" stop-color="#0019ff"/><stop offset="0.3232" stop-color="#0017ff"/><stop offset="0.3731" stop-color="#0507ff"/><stop offset="0.423" stop-color="#5300ff"/><stop offset="0.4729" stop-color="#7c00ff"/><stop offset="0.5228" stop-color="#8000ff"/><stop offset="0.9718" stop-color="#8000ff"/></linearGradient><linearGradient id="g89"><stop offset="0.0239" stop-color="#050eff"/><stop offset="0.0737" stop-color="#0512ff"/><stop offset="0.1735" stop-color="#050eff"/><stop offset="0.3232" stop-color="#050cff"/><stop offset="0.3731" stop-color="#0b00ff"/><stop offset="0.423" stop-color="#5800ff"/><stop offset="0.4729" stop-color="#7c00ff"/><stop offset="0.5726" stop-color="#8000ff"/><stop offset="0.9718" stop-color="#8000ff"/></linearGradient><linearGradient id="g90"><stop offset="0.0239" stop-color="#150aff"/><stop offset="0.0737" stop-color="#140dff"/><stop offset="0.3232" stop-color="#1609ff"/><stop offset="0.3731" stop-color="#1d00ff"/><stop offset="0.423" stop-color="#5e00ff"/><stop offset="0.4729" stop-color="#7d00ff"/><stop offset="0.5726" stop-color="#8000ff"/><stop offset="0.9718" stop-color="#8000ff"/></linearGradient><linearGradient id="g91"><stop offset="0.0239" stop-color="#2606ff"/><stop offset="0.2234" stop-color="#2606ff"/><stop offset="0.3232" stop-color="#2705ff"/><stop offset="0.3731" stop-color="#2e00ff"/><stop offset="0.423" stop-color="#6300ff"/><stop offset="0.4729" stop-color="#7d00ff"/><stop offset="0.6225" stop-color="#8000ff"/><stop offset="0.9718" stop-color="#8000ff"/></linearGradient><linearGradient id="g92"><stop offset="0.0239" stop-color="#3702ff"/><stop offset="0.0737" stop-color="#3402ff"/><stop offset="0.3232" stop-color="#3702ff"/><stop offset="0.3731" stop-color="#4000ff"/><stop offset="0.423" stop-color="#6900ff"/><stop offset="0.4729" stop-color="#7e00ff"/><stop offset="0.9219" stop-color="#8000ff"/><stop offset="0.9718" stop-color="#8000ff"/></linearGradient><linearGradient id="g93"><stop offset="0.0239" stop-color="#4600ff"/><stop offset="0.0737" stop-color="#4300ff"/><stop offset="0.3232" stop-color="#4700ff"/><stop offset="0.3731" stop-color="#4f00ff"/><stop offset="0.423" stop-color="#6e00ff"/><stop offset="0.4729" stop-color="#7e00ff"/><stop offset="0.9718" stop-color="#8000ff"/></linearGradient><linearGradient id="g94"><stop offset="0.0239" stop-color="#5400ff"/><stop offset="0.3232" stop-color="#5500ff"/><stop offset="0.3731" stop-color="#5b00ff"/><stop offset="0.423" stop-color="#7300ff"/><stop offset="0.4729" stop-color="#7f00ff"/><stop offset="0.9718" stop-color="#8000ff"/></linearGradient><linearGradient id="g95"><stop offset="0.0239" stop-color="#6200ff"/><stop offset="0.3232" stop-color="#6200ff"/><stop offset="0.3731" stop-color="#6700ff"/><stop offset="0.423" stop-color="#7700ff"/><stop offset="0.4729" stop-color="#7f00ff"/><stop offset="0.9718" stop-color="#8000ff"/></linearGradient><linearGradient id="g96"><stop offset="0.0239" stop-color="#7000ff"/><stop offset="0.3232" stop-color="#7000ff"/><stop offset="0.3731" stop-color="#7300ff"/><stop offset="0.4729" stop-color="#8000ff"/><stop offset="0.9718" stop-color="#8000ff"/></linearGradient><linearGradient id="g97"><stop offset="0.0239" stop-color="#7600ff"/><stop offset="0.3731" stop-color="#7700ff"/><stop offset="0.4729" stop-color="#8000ff"/><stop offset="0.9718" stop-color="#8000ff"/></linearGradient><linearGradient id="g98"><stop offset="0.0239" stop-color="#7c00ff"/><stop offset="0.9219" stop-color="#8000ff"/><stop offset="0.9718" stop-color="#8000ff"/></linearGradient><linearGradient id="g99"><stop offset="0.0239" stop-color="#7e00ff"/><stop offset="0.9718" stop-color="#8000ff"/></linearGradient><linearGradient id="g100"><stop offset="0.0239" stop-color="#7b00ff"/><stop offset="0.9718" stop-color="#7f00ff"/></linearGradient><linearGradient id="g101"><stop offset="0.0239" stop-color="#7a00ff"/><stop offset="0.9718" stop-color="#7f00ff"/></linearGradient><linearGradient id="g102"><stop offset="0.0239" stop-color="#7600ff"/><stop offset="0.2733" stop-color="#7600ff"/><stop offset="0.3731" stop-color="#7d00ff"/><stop offset="0.423" stop-color="#7900ff"/><stop offset="0.9219" stop-color="#7f00ff"/><stop offset="0.9718" stop-color="#7f00ff"/></linearGradient><linearGradient id="g103"><stop offset="0.0239" stop-color="#6d00ff"/><stop offset="0.2733" stop-color="#6d00ff"/><stop offset="0.3731" stop-color="#7c00ff"/><stop offset="0.423" stop-color="#7400ff"/><stop offset="0.5726" stop-color="#7c00ff"/><stop offset="0.9718" stop-color="#7e00ff"/></linearGradient><linearGradient id="g104"><stop offset="0.0239" stop-color="#6500ff"/><stop offset="0.2733" stop-color="#6500ff"/><stop offset="0.3731" stop-color="#7a00ff"/><stop offset="0.423" stop-color="#6e00ff"/><stop offset="0.5228" stop-color="#7900ff"/><stop offset="0.9718" stop-color="#7e00ff"/></linearGradient><linearGradient id="g105"><stop offset="0.0239" stop-color="#5c00ff"/><stop offset="0.2733" stop-color="#5c00ff"/><stop offset="0.3232" stop-color="#6800ff"/><stop offset="0.3731" stop-color="#7900ff"/><stop offset="0.423" stop-color="#6900ff"/><stop offset="0.5228" stop-color="#7700ff"/><stop offset="0.9219" stop-color="#7d00ff"/><stop offset="0.9718" stop-color="#7d00ff"/></linearGradient><linearGradient id="g106"><stop offset="0.0239" stop-color="#4b00ff"/><stop offset="0.2733" stop-color="#4b00ff"/><stop offset="0.3232" stop-color="#5800ff"/><stop offset="0.3731" stop-color="#6a00ff"/><stop offset="0.423" stop-color="#5800ff"/><stop offset="0.5228" stop-color="#7000ff"/><stop offset="0.7223" stop-color="#7b00ff"/><stop offset="0.9718" stop-color="#7c00ff"/></linearGradient><linearGradient id="g107"><stop offset="0.0239" stop-color="#3600ff"/><stop offset="0.2733" stop-color="#3600ff"/><stop offset="0.3232" stop-color="#4200ff"/><stop offset="0.3731" stop-color="#5400ff"/><stop offset="0.423" stop-color="#4100ff"/><stop offset="0.5228" stop-color="#6500ff"/><stop offset="0.6724" stop-color="#7900ff"/><stop offset="0.9718" stop-color="#7c00ff"/></linearGradient><linearGradient id="g108"><stop offset="0.0239" stop-color="#2000ff"/><stop offset="0.2733" stop-color="#2000ff"/><stop offset="0.3232" stop-color="#2d00ff"/><stop offset="0.3731" stop-color="#3e00ff"/><stop offset="0.423" stop-color="#2a00ff"/><stop offset="0.5228" stop-color="#5b00ff"/><stop offset="0.6225" stop-color="#6f00ff"/><stop offset="0.6724" stop-color="#7700ff"/><stop offset="0.9718" stop-color="#7b00ff"/></linearGradient><linearGradient id="g109"><stop offset="0.0239" stop-color="#0b00ff"/><stop offset="0.2733" stop-color="#0b00ff"/><stop offset="0.3232" stop-color="#1700ff"/><stop offset="0.3731" stop-color="#2700ff"/><stop offset="0.423" stop-color="#1300ff"/><stop offset="0.5228" stop-color="#5000ff"/><stop offset="0.6225" stop-color="#6b00ff"/><stop offset="0.6724" stop-color="#7600ff"/><stop offset="0.9718" stop-color="#7a00ff"/></linearGradient><linearGradient id="g110"><stop offset="0.0239" stop-color="#0714ff"/><stop offset="0.2733" stop-color="#0714ff"/><stop offset="0.3731" stop-color="#1c17ff"/><stop offset="0.423" stop-color="#0d13ff"/><stop offset="0.5228" stop-color="#3d00ff"/><stop offset="0.6225" stop-color="#5d00ff"/><stop offset="0.6724" stop-color="#6900ff"/><stop offset="0.9219" stop-color="#7500ff"/><stop offset="0.9718" stop-color="#7500ff"/></linearGradient><linearGradient id="g111"><stop offset="0.0239" stop-color="#0429ff"/><stop offset="0.2733" stop-color="#0429ff"/><stop offset="0.3731" stop-color="#1231ff"/><stop offset="0.423" stop-color="#0828ff"/><stop offset="0.5228" stop-color="#2900ff"/><stop offset="0.6225" stop-color="#4d00ff"/><stop offset="0.6724" stop-color="#5b00ff"/><stop offset="0.9219" stop-color="#6f00ff"/><stop offset="0.9718" stop-color="#6f00ff"/></linearGradient><linearGradient id="g112"><stop offset="0.0239" stop-color="#023fff"/><stop offset="0.2733" stop-color="#023fff"/><stop offset="0.3731" stop-color="#084bff"/><stop offset="0.423" stop-color="#043dff"/><stop offset="0.5228" stop-color="#1500ff"/><stop offset="0.6225" stop-color="#3d00ff"/><stop offset="0.6724" stop-color="#4e00ff"/><stop offset="0.872" stop-color="#6600ff"/><stop offset="0.9718" stop-color="#6a00ff"/></linearGradient><linearGradient id="g113"><stop offset="0.0239" stop-color="#0056ff"/><stop offset="0.2733" stop-color="#0056ff"/><stop offset="0.3731" stop-color="#0066ff"/><stop offset="0.423" stop-color="#0054ff"/><stop offset="0.4729" stop-color="#002aff"/><stop offset="0.5228" stop-color="#0404ff"/><stop offset="0.6225" stop-color="#2e02ff"/><stop offset="0.6724" stop-color="#3f01ff"/><stop offset="0.872" stop-color="#5e00ff"/><stop offset="0.9219" stop-color="#6200ff"/><stop offset="0.9718" stop-color="#6200ff"/></linearGradient><linearGradient id="g114"><stop offset="0.0239" stop-color="#0075ff"/><stop offset="0.2733" stop-color="#0075ff"/><stop offset="0.3731" stop-color="#0089ff"/><stop offset="0.423" stop-color="#0073ff"/><stop offset="0.5228" stop-color="#031aff"/><stop offset="0.6225" stop-color="#210cff"/><stop offset="0.6724" stop-color="#2d06ff"/><stop offset="0.8221" stop-color="#4100ff"/><stop offset="0.9219" stop-color="#4d00ff"/><stop offset="0.9718" stop-color="#4d00ff"/></linearGradient><linearGradient id="g115"><stop offset="0.0239" stop-color="#0094ff"/><stop offset="0.2733" stop-color="#0094ff"/><stop offset="0.3232" stop-color="#009eff"/><stop offset="0.3731" stop-color="#00acff"/><stop offset="0.423" stop-color="#0092ff"/><stop offset="0.5228" stop-color="#0230ff"/><stop offset="0.6225" stop-color="#1415ff"/><stop offset="0.6724" stop-color="#1c0bff"/><stop offset="0.7722" stop-color="#2300ff"/><stop offset="0.872" stop-color="#3400ff"/><stop offset="0.9219" stop-color="#3800ff"/><stop offset="0.9718" stop-color="#3800ff"/></linearGradient><linearGradient id="g116"><stop offset="0.0239" stop-color="#00b2ff"/><stop offset="0.2733" stop-color="#00b2ff"/><stop offset="0.3232" stop-color="#00beff"/><stop offset="0.3731" stop-color="#00d0ff"/><stop offset="0.423" stop-color="#00b0ff"/><stop offset="0.5228" stop-color="#0146ff"/><stop offset="0.5726" stop-color="#0430ff"/><stop offset="0.6724" stop-color="#0a10ff"/><stop offset="0.7722" stop-color="#0d00ff"/><stop offset="0.872" stop-color="#1f00ff"/><stop offset="0.9219" stop-color="#2400ff"/><stop offset="0.9718" stop-color="#2400ff"/></linearGradient><linearGradient id="g117"><stop offset="0.0239" stop-color="#00cbf7"/><stop offset="0.2733" stop-color="#00cbf7"/><stop offset="0.3232" stop-color="#00d6f5"/><stop offset="0.3731" stop-color="#00e7f2"/><stop offset="0.423" stop-color="#00c9f7"/><stop offset="0.4729" stop-color="#0098fe"/><stop offset="0.5228" stop-color="#0060ff"/><stop offset="0.5726" stop-color="#0046ff"/><stop offset="0.6724" stop-color="#001fff"/><stop offset="0.7722" stop-color="#000bff"/><stop offset="0.872" stop-color="#1108ff"/><stop offset="0.9219" stop-color="#1507ff"/><stop offset="0.9718" stop-color="#1507ff"/></linearGradient><linearGradient id="g118"><stop offset="0.0239" stop-color="#00dae5"/><stop offset="0.2733" stop-color="#00dae5"/><stop offset="0.3731" stop-color="#00eed2"/><stop offset="0.423" stop-color="#00d9e4"/><stop offset="0.4729" stop-color="#00b7fc"/><stop offset="0.5228" stop-color="#0080ff"/><stop offset="0.5726" stop-color="#0064ff"/><stop offset="0.6724" stop-color="#003cff"/><stop offset="0.7722" stop-color="#0026ff"/><stop offset="0.9219" stop-color="#0f19ff"/><stop offset="0.9718" stop-color="#0f19ff"/></linearGradient><linearGradient id="g119"><stop offset="0.0239" stop-color="#00ead3"/><stop offset="0.2733" stop-color="#00ead3"/><stop offset="0.3232" stop-color="#00efc5"/><stop offset="0.3731" stop-color="#00f5b2"/><stop offset="0.423" stop-color="#00ead0"/><stop offset="0.4729" stop-color="#00d6f9"/><stop offset="0.5228" stop-color="#009fff"/><stop offset="0.5726" stop-color="#0083ff"/><stop offset="0.6724" stop-color="#0059ff"/><stop offset="0.7722" stop-color="#0041ff"/><stop offset="0.872" stop-color="#072fff"/><stop offset="0.9219" stop-color="#082bff"/><stop offset="0.9718" stop-color="#082bff"/></linearGradient><linearGradient id="g120"><stop offset="0.0239" stop-color="#00fac1"/><stop offset="0.2733" stop-color="#00fac1"/><stop offset="0.3232" stop-color="#00fbae"/><stop offset="0.3731" stop-color="#00fd92"/><stop offset="0.423" stop-color="#00fabd"/><stop offset="0.4729" stop-color="#00f5f7"/><stop offset="0.5228" stop-color="#00bfff"/><stop offset="0.5726" stop-color="#00a1ff"/><stop offset="0.6724" stop-color="#0076ff"/><stop offset="0.872" stop-color="#0243ff"/><stop offset="0.9219" stop-color="#023cff"/><stop offset="0.9718" stop-color="#023cff"/></linearGradient><linearGradient id="g121"><stop offset="0.0239" stop-color="#00ffa0"/><stop offset="0.2733" stop-color="#00ffa0"/><stop offset="0.3232" stop-color="#00ff8c"/><stop offset="0.3731" stop-color="#02ff6f"/><stop offset="0.423" stop-color="#00ff9b"/><stop offset="0.4729" stop-color="#00ffda"/><stop offset="0.5228" stop-color="#00d3ee"/><stop offset="0.5726" stop-color="#00baf4"/><stop offset="0.6724" stop-color="#0096fd"/><stop offset="0.872" stop-color="#005eff"/><stop offset="0.9219" stop-color="#0056ff"/><stop offset="0.9718" stop-color="#0056ff"/></linearGradient><linearGradient id="g122"><stop offset="0.0239" stop-color="#00ff79"/><stop offset="0.2733" stop-color="#00ff79"/><stop offset="0.3232" stop-color="#00ff65"/><stop offset="0.3731" stop-color="#04ff4b"/><stop offset="0.423" stop-color="#00ff72"/><stop offset="0.4729" stop-color="#00ffb2"/><stop offset="0.5228" stop-color="#00e1d5"/><stop offset="0.6225" stop-color="#00c4ef"/><stop offset="0.6724" stop-color="#00b9fa"/><stop offset="0.7223" stop-color="#00adff"/><stop offset="0.872" stop-color="#007dff"/><stop offset="0.9219" stop-color="#0074ff"/><stop offset="0.9718" stop-color="#0074ff"/></linearGradient><linearGradient id="g123"><stop offset="0.0239" stop-color="#00ff52"/><stop offset="0.2733" stop-color="#00ff52"/><stop offset="0.3232" stop-color="#00ff3e"/><stop offset="0.3731" stop-color="#06ff27"/><stop offset="0.423" stop-color="#00ff49"/><stop offset="0.4729" stop-color="#00ff8a"/><stop offset="0.5228" stop-color="#00f0bc"/><stop offset="0.5726" stop-color="#00e7d3"/><stop offset="0.6724" stop-color="#00dbf7"/><stop offset="0.7223" stop-color="#00d1ff"/><stop offset="0.872" stop-color="#009bff"/><stop offset="0.9219" stop-color="#0092ff"/><stop offset="0.9718" stop-color="#0092ff"/></linearGradient><linearGradient id="g124"><stop offset="0.0239" stop-color="#00ff2a"/><stop offset="0.2733" stop-color="#00ff2a"/><stop offset="0.3232" stop-color="#00ff17"/><stop offset="0.3731" stop-color="#09ff02"/><stop offset="0.423" stop-color="#00ff1f"/><stop offset="0.5228" stop-color="#00fea2"/><stop offset="0.5726" stop-color="#00fec2"/><stop offset="0.6724" stop-color="#00fdf4"/><stop offset="0.7223" stop-color="#00f5ff"/><stop offset="0.872" stop-color="#00baff"/><stop offset="0.9219" stop-color="#00b0ff"/><stop offset="0.9718" stop-color="#00b0ff"/></linearGradient><linearGradient id="g125"><stop offset="0.0239" stop-color="#12ff1e"/><stop offset="0.2733" stop-color="#12ff1e"/><stop offset="0.3232" stop-color="#17ff10"/><stop offset="0.3731" stop-color="#25ff00"/><stop offset="0.423" stop-color="#14ff16"/><stop offset="0.5228" stop-color="#02ff79"/><stop offset="0.6225" stop-color="#00ffaa"/><stop offset="0.6724" stop-color="#00ffc1"/><stop offset="0.7223" stop-color="#00f9d2"/><stop offset="0.872" stop-color="#00cdea"/><stop offset="0.9219" stop-color="#00c5ef"/><stop offset="0.9718" stop-color="#00c5ef"/></linearGradient><linearGradient id="g126"><stop offset="0.0239" stop-color="#24ff13"/><stop offset="0.2733" stop-color="#24ff13"/><stop offset="0.3232" stop-color="#2fff0a"/><stop offset="0.3731" stop-color="#43ff00"/><stop offset="0.423" stop-color="#29ff0e"/><stop offset="0.5228" stop-color="#04ff4e"/><stop offset="0.6225" stop-color="#00ff76"/><stop offset="0.7223" stop-color="#00fba1"/><stop offset="0.872" stop-color="#00dfd4"/><stop offset="0.9219" stop-color="#00dadd"/><stop offset="0.9718" stop-color="#00dadd"/></linearGradient><linearGradient id="g127"><stop offset="0.0239" stop-color="#37ff09"/><stop offset="0.2733" stop-color="#37ff09"/><stop offset="0.3232" stop-color="#47ff04"/><stop offset="0.3731" stop-color="#61ff00"/><stop offset="0.423" stop-color="#3fff06"/><stop offset="0.5228" stop-color="#06ff22"/><stop offset="0.5726" stop-color="#00ff31"/><stop offset="0.6724" stop-color="#00ff54"/><stop offset="0.872" stop-color="#00f1bf"/><stop offset="0.9219" stop-color="#00efcc"/><stop offset="0.9718" stop-color="#00efcc"/></linearGradient><linearGradient id="g128"><stop offset="0.0239" stop-color="#4aff00"/><stop offset="0.2733" stop-color="#4aff00"/><stop offset="0.3232" stop-color="#5fff00"/><stop offset="0.3731" stop-color="#7eff00"/><stop offset="0.423" stop-color="#54ff00"/><stop offset="0.5228" stop-color="#09ff00"/><stop offset="0.5726" stop-color="#02ff09"/><stop offset="0.6724" stop-color="#01ff27"/><stop offset="0.872" stop-color="#00ffa4"/><stop offset="0.9219" stop-color="#00ffb4"/><stop offset="0.9718" stop-color="#00ffb4"/></linearGradient><linearGradient id="g129"><stop offset="0.0239" stop-color="#5fff00"/><stop offset="0.2733" stop-color="#5fff00"/><stop offset="0.3232" stop-color="#75ff00"/><stop offset="0.3731" stop-color="#98ff00"/><stop offset="0.423" stop-color="#67ff00"/><stop offset="0.5228" stop-color="#15ff00"/><stop offset="0.5726" stop-color="#0cff07"/><stop offset="0.6724" stop-color="#08ff1c"/><stop offset="0.872" stop-color="#00ff76"/><stop offset="0.9219" stop-color="#00ff83"/><stop offset="0.9718" stop-color="#00ff83"/></linearGradient><linearGradient id="g130"><stop offset="0.0239" stop-color="#73ff00"/><stop offset="0.2733" stop-color="#73ff00"/><stop offset="0.3232" stop-color="#8cff00"/><stop offset="0.3731" stop-color="#b1ff00"/><stop offset="0.423" stop-color="#7bff00"/><stop offset="0.5228" stop-color="#21ff00"/><stop offset="0.5726" stop-color="#16ff04"/><stop offset="0.6724" stop-color="#0fff11"/><stop offset="0.872" stop-color="#00ff49"/><stop offset="0.9219" stop-color="#00ff51"/><stop offset="0.9718" stop-color="#00ff51"/></linearGradient><linearGradient id="g131"><stop offset="0.0239" stop-color="#88ff00"/><stop offset="0.2733" stop-color="#88ff00"/><stop offset="0.3232" stop-color="#a3ff00"/><stop offset="0.3731" stop-color="#cbff00"/><stop offset="0.423" stop-color="#8eff00"/><stop offset="0.5228" stop-color="#2dff00"/><stop offset="0.5726" stop-color="#20ff01"/><stop offset="0.7223" stop-color="#10ff0b"/><stop offset="0.872" stop-color="#00ff1b"/><stop offset="0.9219" stop-color="#00ff20"/><stop offset="0.9718" stop-color="#00ff20"/></linearGradient><linearGradient id="g132"><stop offset="0.0239" stop-color="#99ff00"/><stop offset="0.2733" stop-color="#99ff00"/><stop offset="0.3232" stop-color="#b5ff00"/><stop offset="0.3731" stop-color="#defd00"/><stop offset="0.423" stop-color="#9eff00"/><stop offset="0.5228" stop-color="#37ff00"/><stop offset="0.5726" stop-color="#29ff00"/><stop offset="0.872" stop-color="#04ff02"/><stop offset="0.9718" stop-color="#03ff04"/></linearGradient><linearGradient id="g133"><stop offset="0.0239" stop-color="#a6ff00"/><stop offset="0.2733" stop-color="#a6ff00"/><stop offset="0.3232" stop-color="#c3ff00"/><stop offset="0.3731" stop-color="#e8f800"/><stop offset="0.423" stop-color="#a9ff00"/><stop offset="0.5228" stop-color="#3fff00"/><stop offset="0.5726" stop-color="#2fff00"/><stop offset="0.7223" stop-color="#1aff00"/><stop offset="0.872" stop-color="#0bff01"/><stop offset="0.9718" stop-color="#0bff03"/></linearGradient><linearGradient id="g134"><stop offset="0.0239" stop-color="#b3ff00"/><stop offset="0.2733" stop-color="#b3ff00"/><stop offset="0.3232" stop-color="#d0ff00"/><stop offset="0.3731" stop-color="#f2f400"/><stop offset="0.423" stop-color="#b5ff00"/><stop offset="0.5228" stop-color="#46ff00"/><stop offset="0.5726" stop-color="#35ff00"/><stop offset="0.6724" stop-color="#23ff00"/><stop offset="0.872" stop-color="#13ff01"/><stop offset="0.9718" stop-color="#12ff02"/></linearGradient><linearGradient id="g135"><stop offset="0.0239" stop-color="#bfff00"/><stop offset="0.2733" stop-color="#bfff00"/><stop offset="0.3232" stop-color="#deff00"/><stop offset="0.3731" stop-color="#fcef00"/><stop offset="0.423" stop-color="#c0ff00"/><stop offset="0.5228" stop-color="#4eff00"/><stop offset="0.5726" stop-color="#3bff00"/><stop offset="0.6724" stop-color="#26ff00"/><stop offset="0.9219" stop-color="#1aff00"/><stop offset="0.9718" stop-color="#1aff00"/></linearGradient><linearGradient id="g136"><stop offset="0.0239" stop-color="#c3ff00"/><stop offset="0.2733" stop-color="#c3ff00"/><stop offset="0.3232" stop-color="#e4ff00"/><stop offset="0.3731" stop-color="#ffe800"/><stop offset="0.423" stop-color="#c3ff00"/><stop offset="0.5228" stop-color="#5bff00"/><stop offset="0.5726" stop-color="#45ff00"/><stop offset="0.6724" stop-color="#27ff00"/><stop offset="0.9219" stop-color="#1dff00"/><stop offset="0.9718" stop-color="#1dff00"/></linearGradient><linearGradient id="g137"><stop offset="0.0239" stop-color="#c3ff00"/><stop offset="0.2733" stop-color="#c3ff00"/><stop offset="0.3232" stop-color="#e8ff00"/><stop offset="0.3731" stop-color="#ffe000"/><stop offset="0.423" stop-color="#c3ff00"/><stop offset="0.5228" stop-color="#6aff00"/><stop offset="0.6225" stop-color="#3aff00"/><stop offset="0.6724" stop-color="#27ff00"/><stop offset="0.9219" stop-color="#1eff00"/><stop offset="0.9718" stop-color="#1eff00"/></linearGradient><linearGradient id="g138"><stop offset="0.0239" stop-color="#c3ff00"/><stop offset="0.2733" stop-color="#c3ff00"/><stop offset="0.3232" stop-color="#ebff00"/><stop offset="0.3731" stop-color="#ffd800"/><stop offset="0.423" stop-color="#c3ff00"/><stop offset="0.5228" stop-color="#79ff00"/><stop offset="0.6225" stop-color="#40ff00"/><stop offset="0.6724" stop-color="#28ff00"/><stop offset="0.9718" stop-color="#1fff00"/></linearGradient><linearGradient id="g139"><stop offset="0.0239" stop-color="#c3ff00"/><stop offset="0.2733" stop-color="#c3ff00"/><stop offset="0.3232" stop-color="#eeff00"/><stop offset="0.3731" stop-color="#ffd000"/><stop offset="0.423" stop-color="#c3ff00"/><stop offset="0.5228" stop-color="#89ff00"/><stop offset="0.6225" stop-color="#45ff00"/><stop offset="0.6724" stop-color="#28ff00"/><stop offset="0.9718" stop-color="#20ff00"/></linearGradient><linearGradient id="g140"><stop offset="0.0239" stop-color="#c5ff00"/><stop offset="0.2733" stop-color="#c5ff00"/><stop offset="0.3232" stop-color="#f2fb00"/><stop offset="0.3731" stop-color="#ffbe00"/><stop offset="0.423" stop-color="#c6ff00"/><stop offset="0.5228" stop-color="#91ff00"/><stop offset="0.6225" stop-color="#47ff00"/><stop offset="0.6724" stop-color="#28ff00"/><stop offset="0.9718" stop-color="#20ff00"/></linearGradient><linearGradient id="g141"><stop offset="0.0239" stop-color="#c7ff00"/><stop offset="0.2733" stop-color="#c7ff00"/><stop offset="0.3232" stop-color="#f7f700"/><stop offset="0.3731" stop-color="#ffab00"/><stop offset="0.423" stop-color="#c8ff00"/><stop offset="0.5228" stop-color="#98ff00"/><stop offset="0.6225" stop-color="#4aff00"/><stop offset="0.6724" stop-color="#28ff00"/><stop offset="0.9718" stop-color="#20ff00"/></linearGradient><linearGradient id="g142"><stop offset="0.0239" stop-color="#c9ff00"/><stop offset="0.2733" stop-color="#c9ff00"/><stop offset="0.3232" stop-color="#fcf200"/><stop offset="0.3731" stop-color="#ff9800"/><stop offset="0.423" stop-color="#cbff00"/><stop offset="0.5228" stop-color="#a0ff00"/><stop offset="0.5726" stop-color="#78ff00"/><stop offset="0.6225" stop-color="#4cff00"/><stop offset="0.6724" stop-color="#28ff00"/><stop offset="0.9718" stop-color="#20ff00"/></linearGradient><linearGradient id="g143"><stop offset="0.0239" stop-color="#cefe00"/><stop offset="0.2733" stop-color="#cefe00"/><stop offset="0.3232" stop-color="#ffea00"/><stop offset="0.3731" stop-color="#ff8300"/><stop offset="0.423" stop-color="#d0fb00"/><stop offset="0.4729" stop-color="#beff00"/><stop offset="0.5228" stop-color="#a8ff00"/><stop offset="0.5726" stop-color="#7eff00"/><stop offset="0.6225" stop-color="#4eff00"/><stop offset="0.6724" stop-color="#28ff00"/><stop offset="0.9718" stop-color="#20ff00"/></linearGradient><linearGradient id="g144"><stop offset="0.0239" stop-color="#dcf900"/><stop offset="0.2733" stop-color="#dcf900"/><stop offset="0.3232" stop-color="#ffd500"/><stop offset="0.3731" stop-color="#ff6b00"/><stop offset="0.423" stop-color="#ddea00"/><stop offset="0.4729" stop-color="#d1fe00"/><stop offset="0.5228" stop-color="#b0ff00"/><stop offset="0.6225" stop-color="#51ff00"/><stop offset="0.6724" stop-color="#28ff00"/><stop offset="0.9718" stop-color="#20ff00"/></linearGradient><linearGradient id="g145"><stop offset="0.0239" stop-color="#eaf400"/><stop offset="0.2733" stop-color="#eaf400"/><stop offset="0.3232" stop-color="#ffc000"/><stop offset="0.3731" stop-color="#ff5300"/><stop offset="0.423" stop-color="#ebd900"/><stop offset="0.4729" stop-color="#e3fd00"/><stop offset="0.5228" stop-color="#b8ff00"/><stop offset="0.6225" stop-color="#53ff00"/><stop offset="0.6724" stop-color="#28ff00"/><stop offset="0.9718" stop-color="#20ff00"/></linearGradient><linearGradient id="g146"><stop offset="0.0239" stop-color="#f8ef00"/><stop offset="0.2733" stop-color="#f8ef00"/><stop offset="0.3232" stop-color="#ffab00"/><stop offset="0.3731" stop-color="#ff3b00"/><stop offset="0.423" stop-color="#f8c800"/><stop offset="0.4729" stop-color="#f6fc00"/><stop offset="0.6225" stop-color="#55ff00"/><stop offset="0.6724" stop-color="#28ff00"/><stop offset="0.9718" stop-color="#20ff00"/></linearGradient><linearGradient id="g147"><stop offset="0.0239" stop-color="#ffdf00"/><stop offset="0.2733" stop-color="#ffdf00"/><stop offset="0.3232" stop-color="#ff9600"/><stop offset="0.3731" stop-color="#ff2900"/><stop offset="0.423" stop-color="#ffb000"/><stop offset="0.4729" stop-color="#ffed00"/><stop offset="0.5726" stop-color="#9bff00"/><stop offset="0.6225" stop-color="#63ff00"/><stop offset="0.6724" stop-color="#33ff00"/><stop offset="0.9219" stop-color="#20ff00"/><stop offset="0.9718" stop-color="#20ff00"/></linearGradient><linearGradient id="g148"><stop offset="0.0239" stop-color="#ffc400"/><stop offset="0.2733" stop-color="#ffc400"/><stop offset="0.3232" stop-color="#ff8100"/><stop offset="0.3731" stop-color="#ff1d00"/><stop offset="0.423" stop-color="#ff9200"/><stop offset="0.4729" stop-color="#ffcf00"/><stop offset="0.5228" stop-color="#dcea00"/><stop offset="0.5726" stop-color="#b6ff00"/><stop offset="0.6225" stop-color="#7cff00"/><stop offset="0.6724" stop-color="#4aff00"/><stop offset="0.872" stop-color="#25ff00"/><stop offset="0.9219" stop-color="#20ff00"/><stop offset="0.9718" stop-color="#20ff00"/></linearGradient><linearGradient id="g149"><stop offset="0.0239" stop-color="#ffa900"/><stop offset="0.2733" stop-color="#ffa900"/><stop offset="0.3232" stop-color="#ff6c00"/><stop offset="0.3731" stop-color="#ff1000"/><stop offset="0.423" stop-color="#ff7300"/><stop offset="0.4729" stop-color="#ffb100"/><stop offset="0.5228" stop-color="#ecdc00"/><stop offset="0.5726" stop-color="#d2ff00"/><stop offset="0.6225" stop-color="#96ff00"/><stop offset="0.6724" stop-color="#61ff00"/><stop offset="0.872" stop-color="#27ff00"/><stop offset="0.9219" stop-color="#20ff00"/><stop offset="0.9718" stop-color="#20ff00"/></linearGradient><linearGradient id="g150"><stop offset="0.0239" stop-color="#ff8e00"/><stop offset="0.2733" stop-color="#ff8e00"/><stop offset="0.3232" stop-color="#ff5700"/><stop offset="0.3731" stop-color="#ff0400"/><stop offset="0.423" stop-color="#ff5500"/><stop offset="0.4729" stop-color="#ff9400"/><stop offset="0.5228" stop-color="#fbce00"/><stop offset="0.5726" stop-color="#eeff00"/><stop offset="0.6225" stop-color="#b0ff00"/><stop offset="0.6724" stop-color="#78ff00"/><stop offset="0.872" stop-color="#29ff00"/><stop offset="0.9219" stop-color="#20ff00"/><stop offset="0.9718" stop-color="#20ff00"/></linearGradient><linearGradient id="g151"><stop offset="0.0239" stop-color="#ff7c00"/><stop offset="0.2733" stop-color="#ff7c00"/><stop offset="0.3232" stop-color="#ff4a00"/><stop offset="0.3731" stop-color="#ff0100"/><stop offset="0.423" stop-color="#ff3f00"/><stop offset="0.5228" stop-color="#ffb300"/><stop offset="0.5726" stop-color="#f7e800"/><stop offset="0.6225" stop-color="#c5f400"/><stop offset="0.6724" stop-color="#98ff00"/><stop offset="0.872" stop-color="#47ff00"/><stop offset="0.9219" stop-color="#3eff00"/><stop offset="0.9718" stop-color="#3eff00"/></linearGradient><linearGradient id="g152"><stop offset="0.0239" stop-color="#ff6d00"/><stop offset="0.2733" stop-color="#ff6d00"/><stop offset="0.3232" stop-color="#ff4000"/><stop offset="0.3731" stop-color="#ff0100"/><stop offset="0.423" stop-color="#ff2d00"/><stop offset="0.5228" stop-color="#ff9400"/><stop offset="0.5726" stop-color="#faca00"/><stop offset="0.6724" stop-color="#baff00"/><stop offset="0.872" stop-color="#6fff00"/><stop offset="0.9219" stop-color="#66ff00"/><stop offset="0.9718" stop-color="#66ff00"/></linearGradient><linearGradient id="g153"><stop offset="0.0239" stop-color="#ff5f00"/><stop offset="0.2733" stop-color="#ff5f00"/><stop offset="0.3232" stop-color="#ff3600"/><stop offset="0.3731" stop-color="#ff0000"/><stop offset="0.423" stop-color="#ff1b00"/><stop offset="0.5228" stop-color="#ff7500"/><stop offset="0.5726" stop-color="#fcac00"/><stop offset="0.6225" stop-color="#ecd800"/><stop offset="0.6724" stop-color="#ddff00"/><stop offset="0.872" stop-color="#96ff00"/><stop offset="0.9219" stop-color="#8dff00"/><stop offset="0.9718" stop-color="#8dff00"/></linearGradient><linearGradient id="g154"><stop offset="0.0239" stop-color="#ff5000"/><stop offset="0.2733" stop-color="#ff5000"/><stop offset="0.3232" stop-color="#ff2c00"/><stop offset="0.3731" stop-color="#ff0000"/><stop offset="0.423" stop-color="#ff0900"/><stop offset="0.5228" stop-color="#ff5600"/><stop offset="0.5726" stop-color="#ff8e00"/><stop offset="0.6225" stop-color="#ffca00"/><stop offset="0.6724" stop-color="#ffff00"/><stop offset="0.872" stop-color="#bdff00"/><stop offset="0.9219" stop-color="#b5ff00"/><stop offset="0.9718" stop-color="#b5ff00"/></linearGradient><linearGradient id="g155"><stop offset="0.0239" stop-color="#ff4100"/><stop offset="0.2733" stop-color="#ff4100"/><stop offset="0.3232" stop-color="#ff2900"/><stop offset="0.3731" stop-color="#ff0c00"/><stop offset="0.423" stop-color="#ff0800"/><stop offset="0.5228" stop-color="#ff4500"/><stop offset="0.5726" stop-color="#ff7a00"/><stop offset="0.6225" stop-color="#ffb400"/><stop offset="0.6724" stop-color="#ffe700"/><stop offset="0.872" stop-color="#cfef00"/><stop offset="0.9219" stop-color="#c9f000"/><stop offset="0.9718" stop-color="#c9f000"/></linearGradient><linearGradient id="g156"><stop offset="0.0239" stop-color="#ff3300"/><stop offset="0.2733" stop-color="#ff3300"/><stop offset="0.3731" stop-color="#ff1800"/><stop offset="0.423" stop-color="#ff0600"/><stop offset="0.5228" stop-color="#ff3400"/><stop offset="0.5726" stop-color="#ff6600"/><stop offset="0.6225" stop-color="#ff9d00"/><stop offset="0.6724" stop-color="#ffce00"/><stop offset="0.872" stop-color="#e0df00"/><stop offset="0.9718" stop-color="#dde200"/></linearGradient><linearGradient id="g157"><stop offset="0.0239" stop-color="#ff2400"/><stop offset="0.3731" stop-color="#ff2300"/><stop offset="0.423" stop-color="#ff0500"/><stop offset="0.5228" stop-color="#ff2300"/><stop offset="0.5726" stop-color="#ff5200"/><stop offset="0.6225" stop-color="#ff8700"/><stop offset="0.6724" stop-color="#ffb600"/><stop offset="0.872" stop-color="#f2d000"/><stop offset="0.9718" stop-color="#f0d300"/></linearGradient><linearGradient id="g158"><stop offset="0.0239" stop-color="#ff2500"/><stop offset="0.2733" stop-color="#ff2500"/><stop offset="0.3731" stop-color="#ff3300"/><stop offset="0.423" stop-color="#ff0a00"/><stop offset="0.5228" stop-color="#ff1b00"/><stop offset="0.5726" stop-color="#ff4700"/><stop offset="0.6225" stop-color="#ff7a00"/><stop offset="0.6724" stop-color="#ffa600"/><stop offset="0.872" stop-color="#ffc400"/><stop offset="0.9718" stop-color="#ffc800"/></linearGradient><linearGradient id="g159"><stop offset="0.0239" stop-color="#ff5400"/><stop offset="0.2733" stop-color="#ff5400"/><stop offset="0.3731" stop-color="#ff4c00"/><stop offset="0.423" stop-color="#ff2200"/><stop offset="0.5228" stop-color="#ff2d00"/><stop offset="0.5726" stop-color="#ff5500"/><stop offset="0.6225" stop-color="#ff8500"/><stop offset="0.6724" stop-color="#ffad00"/><stop offset="0.872" stop-color="#ffc300"/><stop offset="0.9718" stop-color="#ffc600"/></linearGradient><linearGradient id="g160"><stop offset="0.0239" stop-color="#ff8300"/><stop offset="0.2733" stop-color="#ff8300"/><stop offset="0.3232" stop-color="#ff7800"/><stop offset="0.3731" stop-color="#ff6600"/><stop offset="0.423" stop-color="#ff3a00"/><stop offset="0.5228" stop-color="#ff3f00"/><stop offset="0.5726" stop-color="#ff6400"/><stop offset="0.6225" stop-color="#ff8f00"/><stop offset="0.6724" stop-color="#ffb400"/><stop offset="0.9219" stop-color="#ffc400"/><stop offset="0.9718" stop-color="#ffc400"/></linearGradient><linearGradient id="g161"><stop offset="0.0239" stop-color="#ffb200"/><stop offset="0.2733" stop-color="#ffb200"/><stop offset="0.3232" stop-color="#ff9e00"/><stop offset="0.3731" stop-color="#ff7f00"/><stop offset="0.423" stop-color="#ff5300"/><stop offset="0.5228" stop-color="#ff5000"/><stop offset="0.5726" stop-color="#ff7200"/><stop offset="0.6225" stop-color="#ff9a00"/><stop offset="0.6724" stop-color="#ffbc00"/><stop offset="0.9718" stop-color="#ffc300"/></linearGradient><linearGradient id="g162"><stop offset="0.0239" stop-color="#e0d000"/><stop offset="0.2733" stop-color="#e0d000"/><stop offset="0.3232" stop-color="#ecbb00"/><stop offset="0.3731" stop-color="#fd9b00"/><stop offset="0.423" stop-color="#ff7400"/><stop offset="0.5228" stop-color="#ff6a00"/><stop offset="0.5726" stop-color="#ff8700"/><stop offset="0.6225" stop-color="#ffaa00"/><stop offset="0.6724" stop-color="#ffc800"/><stop offset="0.9718" stop-color="#fecb00"/></linearGradient><linearGradient id="g163"><stop offset="0.0239" stop-color="#a5de00"/><stop offset="0.2733" stop-color="#a5de00"/><stop offset="0.3232" stop-color="#c6d000"/><stop offset="0.3731" stop-color="#f8ba00"/><stop offset="0.423" stop-color="#ff9e00"/><stop offset="0.5228" stop-color="#ff8900"/><stop offset="0.5726" stop-color="#ffa100"/><stop offset="0.6225" stop-color="#ffbf00"/><stop offset="0.6724" stop-color="#ffd800"/><stop offset="0.9718" stop-color="#fddb00"/></linearGradient><linearGradient id="g164"><stop offset="0.0239" stop-color="#6aed00"/><stop offset="0.2733" stop-color="#6aed00"/><stop offset="0.3232" stop-color="#a1e500"/><stop offset="0.3731" stop-color="#f4d900"/><stop offset="0.423" stop-color="#ffc900"/><stop offset="0.5228" stop-color="#ffa900"/><stop offset="0.5726" stop-color="#ffbb00"/><stop offset="0.6724" stop-color="#ffe900"/><stop offset="0.9718" stop-color="#fbeb00"/></linearGradient><linearGradient id="g165"><stop offset="0.0239" stop-color="#2ffc00"/><stop offset="0.2733" stop-color="#2ffc00"/><stop offset="0.3232" stop-color="#7cfa00"/><stop offset="0.3731" stop-color="#eff800"/><stop offset="0.423" stop-color="#fff300"/><stop offset="0.5228" stop-color="#ffc900"/><stop offset="0.5726" stop-color="#ffd500"/><stop offset="0.6724" stop-color="#fff900"/><stop offset="0.9718" stop-color="#f9fb00"/></linearGradient><linearGradient id="g166"><stop offset="0.0239" stop-color="#1bff2a"/><stop offset="0.2733" stop-color="#1bff2a"/><stop offset="0.3232" stop-color="#5cff1d"/><stop offset="0.3731" stop-color="#bcff09"/><stop offset="0.423" stop-color="#d0fd00"/><stop offset="0.5228" stop-color="#e6da00"/><stop offset="0.5726" stop-color="#e6e300"/><stop offset="0.6724" stop-color="#e1fd00"/><stop offset="0.9718" stop-color="#ddff00"/></linearGradient><linearGradient id="g167"><stop offset="0.0239" stop-color="#12ff60"/><stop offset="0.2733" stop-color="#12ff60"/><stop offset="0.3232" stop-color="#3dff42"/><stop offset="0.3731" stop-color="#7dff14"/><stop offset="0.423" stop-color="#95fd00"/><stop offset="0.5228" stop-color="#c6e600"/><stop offset="0.5726" stop-color="#c5ec00"/><stop offset="0.6724" stop-color="#bbfe00"/><stop offset="0.9718" stop-color="#b9ff00"/></linearGradient><linearGradient id="g168"><stop offset="0.0239" stop-color="#09ff96"/><stop offset="0.2733" stop-color="#09ff96"/><stop offset="0.3232" stop-color="#1eff67"/><stop offset="0.3731" stop-color="#3dff1e"/><stop offset="0.423" stop-color="#59fe00"/><stop offset="0.5228" stop-color="#a6f300"/><stop offset="0.5726" stop-color="#a5f600"/><stop offset="0.6724" stop-color="#95fe00"/><stop offset="0.9718" stop-color="#95ff00"/></linearGradient><linearGradient id="g169"><stop offset="0.0239" stop-color="#00fecb"/><stop offset="0.2733" stop-color="#00fecb"/><stop offset="0.3232" stop-color="#00fe8b"/><stop offset="0.3731" stop-color="#00ff2b"/><stop offset="0.423" stop-color="#20ff02"/><stop offset="0.5228" stop-color="#86ff01"/><stop offset="0.5726" stop-color="#85ff01"/><stop offset="0.6724" stop-color="#6fff01"/><stop offset="0.9718" stop-color="#71ff01"/></linearGradient><linearGradient id="g170"><stop offset="0.0239" stop-color="#00ded9"/><stop offset="0.2733" stop-color="#00ded9"/><stop offset="0.3232" stop-color="#00ebab"/><stop offset="0.3731" stop-color="#00fe64"/><stop offset="0.423" stop-color="#17ff38"/><stop offset="0.5228" stop-color="#61ff17"/><stop offset="0.5726" stop-color="#61ff15"/><stop offset="0.6724" stop-color="#51ff16"/><stop offset="0.9718" stop-color="#52ff0f"/></linearGradient><linearGradient id="g171"><stop offset="0.0239" stop-color="#00bee7"/><stop offset="0.2733" stop-color="#00bee7"/><stop offset="0.3232" stop-color="#00d8ca"/><stop offset="0.3731" stop-color="#00fe9e"/><stop offset="0.423" stop-color="#0fff6f"/><stop offset="0.5228" stop-color="#3dff2d"/><stop offset="0.5726" stop-color="#3dff28"/><stop offset="0.6724" stop-color="#33ff2b"/><stop offset="0.9219" stop-color="#34ff1d"/><stop offset="0.9718" stop-color="#34ff1d"/></linearGradient><linearGradient id="g172"><stop offset="0.0239" stop-color="#009ef5"/><stop offset="0.2733" stop-color="#009ef5"/><stop offset="0.3232" stop-color="#00c5e9"/><stop offset="0.3731" stop-color="#00fdd7"/><stop offset="0.4729" stop-color="#10ff73"/><stop offset="0.5228" stop-color="#19ff43"/><stop offset="0.5726" stop-color="#19ff3c"/><stop offset="0.6724" stop-color="#15ff3f"/><stop offset="0.9219" stop-color="#15ff2b"/><stop offset="0.9718" stop-color="#15ff2b"/></linearGradient><linearGradient id="g173"><stop offset="0.0239" stop-color="#007eff"/><stop offset="0.2733" stop-color="#007eff"/><stop offset="0.3232" stop-color="#00adff"/><stop offset="0.3731" stop-color="#00f2ff"/><stop offset="0.423" stop-color="#00f6cf"/><stop offset="0.5228" stop-color="#00fa60"/><stop offset="0.5726" stop-color="#00fa58"/><stop offset="0.6724" stop-color="#00fa5c"/><stop offset="0.9219" stop-color="#00fd45"/><stop offset="0.9718" stop-color="#00fd45"/></linearGradient><linearGradient id="g174"><stop offset="0.0239" stop-color="#005cff"/><stop offset="0.2733" stop-color="#005cff"/><stop offset="0.3232" stop-color="#008aff"/><stop offset="0.3731" stop-color="#00ceff"/><stop offset="0.423" stop-color="#00d9dd"/><stop offset="0.5228" stop-color="#00e88e"/><stop offset="0.5726" stop-color="#00e989"/><stop offset="0.6724" stop-color="#00e98b"/><stop offset="0.9219" stop-color="#00f67b"/><stop offset="0.9718" stop-color="#00f67b"/></linearGradient><linearGradient id="g175"><stop offset="0.0239" stop-color="#003bff"/><stop offset="0.2733" stop-color="#003bff"/><stop offset="0.3232" stop-color="#0067ff"/><stop offset="0.3731" stop-color="#00a9ff"/><stop offset="0.423" stop-color="#00bbeb"/><stop offset="0.5228" stop-color="#00d7bc"/><stop offset="0.5726" stop-color="#00d9b9"/><stop offset="0.6724" stop-color="#00d9bb"/><stop offset="0.872" stop-color="#00edb2"/><stop offset="0.9718" stop-color="#00f0b1"/></linearGradient><linearGradient id="g176"><stop offset="0.0239" stop-color="#0019ff"/><stop offset="0.2733" stop-color="#0019ff"/><stop offset="0.3232" stop-color="#0044ff"/><stop offset="0.3731" stop-color="#0085ff"/><stop offset="0.423" stop-color="#009ef9"/><stop offset="0.5228" stop-color="#00c6ea"/><stop offset="0.6724" stop-color="#00c8ea"/><stop offset="0.872" stop-color="#00e5e7"/><stop offset="0.9718" stop-color="#00e9e7"/></linearGradient><linearGradient id="g177"><stop offset="0.0239" stop-color="#0d09ff"/><stop offset="0.2733" stop-color="#0d09ff"/><stop offset="0.3232" stop-color="#082dff"/><stop offset="0.3731" stop-color="#0164ff"/><stop offset="0.423" stop-color="#0080ff"/><stop offset="0.5228" stop-color="#00a9ff"/><stop offset="0.6724" stop-color="#00aaff"/><stop offset="0.872" stop-color="#00c8ff"/><stop offset="0.9718" stop-color="#00ccff"/></linearGradient><linearGradient id="g178"><stop offset="0.0239" stop-color="#2506ff"/><stop offset="0.2733" stop-color="#2506ff"/><stop offset="0.3232" stop-color="#171fff"/><stop offset="0.3731" stop-color="#0444ff"/><stop offset="0.423" stop-color="#0061ff"/><stop offset="0.5228" stop-color="#0083ff"/><stop offset="0.6724" stop-color="#0081ff"/><stop offset="0.872" stop-color="#009aff"/><stop offset="0.9718" stop-color="#009cff"/></linearGradient><linearGradient id="g179"><stop offset="0.0239" stop-color="#3c03ff"/><stop offset="0.2733" stop-color="#3c03ff"/><stop offset="0.3232" stop-color="#2611ff"/><stop offset="0.3731" stop-color="#0625ff"/><stop offset="0.423" stop-color="#0042ff"/><stop offset="0.5228" stop-color="#005cff"/><stop offset="0.6724" stop-color="#0058ff"/><stop offset="0.872" stop-color="#006bff"/><stop offset="0.9718" stop-color="#006dff"/></linearGradient><linearGradient id="g180"><stop offset="0.0239" stop-color="#5400ff"/><stop offset="0.2733" stop-color="#5400ff"/><stop offset="0.3232" stop-color="#3503ff"/><stop offset="0.3731" stop-color="#0906ff"/><stop offset="0.423" stop-color="#0023ff"/><stop offset="0.5228" stop-color="#0036ff"/><stop offset="0.6724" stop-color="#0030ff"/><stop offset="0.9219" stop-color="#003eff"/><stop offset="0.9718" stop-color="#003eff"/></linearGradient><linearGradient id="g181"><stop offset="0.0239" stop-color="#5f00ff"/><stop offset="0.2733" stop-color="#5f00ff"/><stop offset="0.3232" stop-color="#4600ff"/><stop offset="0.3731" stop-color="#2100ff"/><stop offset="0.423" stop-color="#0b17ff"/><stop offset="0.5228" stop-color="#0725ff"/><stop offset="0.6724" stop-color="#091fff"/><stop offset="0.9219" stop-color="#0729ff"/><stop offset="0.9718" stop-color="#0729ff"/></linearGradient><linearGradient id="g182"><stop offset="0.0239" stop-color="#6800ff"/><stop offset="0.2733" stop-color="#6800ff"/><stop offset="0.3232" stop-color="#5800ff"/><stop offset="0.3731" stop-color="#3f00ff"/><stop offset="0.423" stop-color="#190fff"/><stop offset="0.5228" stop-color="#1018ff"/><stop offset="0.6724" stop-color="#1415ff"/><stop offset="0.9718" stop-color="#101bff"/></linearGradient><linearGradient id="g183"><stop offset="0.0239" stop-color="#7200ff"/><stop offset="0.2733" stop-color="#7200ff"/><stop offset="0.3232" stop-color="#6a00ff"/><stop offset="0.3731" stop-color="#5d00ff"/><stop offset="0.423" stop-color="#2707ff"/><stop offset="0.5228" stop-color="#190cff"/><stop offset="0.6724" stop-color="#200aff"/><stop offset="0.9718" stop-color="#1a0dff"/></linearGradient><linearGradient id="g184"><stop offset="0.0239" stop-color="#7a00ff"/><stop offset="0.3731" stop-color="#7900ff"/><stop offset="0.423" stop-color="#3500ff"/><stop offset="0.5228" stop-color="#2200ff"/><stop offset="0.6724" stop-color="#2b00ff"/><stop offset="0.9718" stop-color="#2300ff"/></linearGradient><linearGradient id="g185"><stop offset="0.0239" stop-color="#7b00ff"/><stop offset="0.3731" stop-color="#7a00ff"/><stop offset="0.423" stop-color="#4400ff"/><stop offset="0.5228" stop-color="#3200ff"/><stop offset="0.6724" stop-color="#3b00ff"/><stop offset="0.9718" stop-color="#3300ff"/></linearGradient><linearGradient id="g186"><stop offset="0.0239" stop-color="#7d00ff"/><stop offset="0.3731" stop-color="#7c00ff"/><stop offset="0.423" stop-color="#5400ff"/><stop offset="0.5228" stop-color="#4100ff"/><stop offset="0.6724" stop-color="#4a00ff"/><stop offset="0.9718" stop-color="#4300ff"/></linearGradient><linearGradient id="g187"><stop offset="0.0239" stop-color="#7e00ff"/><stop offset="0.3731" stop-color="#7d00ff"/><stop offset="0.423" stop-color="#6300ff"/><stop offset="0.5228" stop-color="#5100ff"/><stop offset="0.6724" stop-color="#5a00ff"/><stop offset="0.9718" stop-color="#5200ff"/></linearGradient><linearGradient id="g188"><stop offset="0.0239" stop-color="#7f00ff"/><stop offset="0.3731" stop-color="#7e00ff"/><stop offset="0.423" stop-color="#6e00ff"/><stop offset="0.5228" stop-color="#5e00ff"/><stop offset="0.6724" stop-color="#6600ff"/><stop offset="0.9718" stop-color="#5f00ff"/></linearGradient><linearGradient id="g189"><stop offset="0.0239" stop-color="#7f00ff"/><stop offset="0.3731" stop-color="#7f00ff"/><stop offset="0.423" stop-color="#7200ff"/><stop offset="0.5228" stop-color="#6500ff"/><stop offset="0.6724" stop-color="#6b00ff"/><stop offset="0.9718" stop-color="#6700ff"/></linearGradient><linearGradient id="g190"><stop offset="0.0239" stop-color="#8000ff"/><stop offset="0.3731" stop-color="#7f00ff"/><stop offset="0.423" stop-color="#7600ff"/><stop offset="0.5228" stop-color="#6d00ff"/><stop offset="0.7223" stop-color="#7000ff"/><stop offset="0.9718" stop-color="#6e00ff"/></linearGradient><linearGradient id="g191"><stop offset="0.0239" stop-color="#8000ff"/><stop offset="0.3731" stop-color="#8000ff"/><stop offset="0.4729" stop-color="#7700ff"/><stop offset="0.9718" stop-color="#7500ff"/></linearGradient><linearGradient id="g192"><stop offset="0.0239" stop-color="#8000ff"/><stop offset="0.3731" stop-color="#8000ff"/><stop offset="0.4729" stop-color="#7a00ff"/><stop offset="0.9718" stop-color="#7900ff"/></linearGradient><linearGradient id="g193"><stop offset="0.0239" stop-color="#8000ff"/><stop offset="0.3731" stop-color="#8000ff"/><stop offset="0.5228" stop-color="#7b00ff"/><stop offset="0.9718" stop-color="#7b00ff"/></linearGradient><linearGradient id="g194"><stop offset="0.0239" stop-color="#8000ff"/><stop offset="0.9718" stop-color="#7c00ff"/></linearGradient><linearGradient id="g195"><stop offset="0.0239" stop-color="#8000ff"/><stop offset="0.9718" stop-color="#7e00ff"/></linearGradient>
</defs>
<rect width="787" height="342" fill="#fff"/>
<rect x="52" y="8.2" width="274" height="290" fill="#8000ff"/>
<g shape-rendering="crispEdges"><rect x="52" y="39" width="274" height="1.05" fill="url(#g0)"/><rect x="52" y="40" width="274" height="1.05" fill="url(#g1)"/><rect x="52" y="41" width="274" height="1.05" fill="url(#g2)"/><rect x="52" y="42" width="274" height="1.05" fill="url(#g3)"/><rect x="52" y="43" width="274" height="1.05" fill="url(#g4)"/><rect x="52" y="44" width="274" height="1.05" fill="url(#g5)"/><rect x="52" y="45" width="274" height="1.05" fill="url(#g6)"/><rect x="52" y="46" width="274" height="1.05" fill="url(#g7)"/><rect x="52" y="47" width="274" height="1.05" fill="url(#g8)"/><rect x="52" y="48" width="274" height="1.05" fill="url(#g9)"/><rect x="52" y="49" width="274" height="1.05" fill="url(#g10)"/><rect x="52" y="50" width="274" height="1.05" fill="url(#g11)"/><rect x="52" y="51" width="274" height="1.05" fill="url(#g12)"/><rect x="52" y="52" width="274" height="1.05" fill="url(#g13)"/><rect x="52" y="53" width="274" height="1.05" fill="url(#g14)"/><rect x="52" y="54" width="274" height="1.05" fill="url(#g15)"/><rect x="52" y="55" width="274" height="1.05" fill="url(#g16)"/><rect x="52" y="56" width="274" height="1.05" fill="url(#g17)"/><rect x="52" y="57" width="274" height="1.05" fill="url(#g18)"/><rect x="52" y="58" width="274" height="1.05" fill="url(#g19)"/><rect x="52" y="59" width="274" height="1.05" fill="url(#g20)"/><rect x="52" y="60" width="274" height="1.05" fill="url(#g21)"/><rect x="52" y="61" width="274" height="1.05" fill="url(#g22)"/><rect x="52" y="62" width="274" height="1.05" fill="url(#g23)"/><rect x="52" y="63" width="274" height="1.05" fill="url(#g24)"/><rect x="52" y="64" width="274" height="1.05" fill="url(#g25)"/><rect x="52" y="65" width="274" height="1.05" fill="url(#g26)"/><rect x="52" y="66" width="274" height="1.05" fill="url(#g27)"/><rect x="52" y="67" width="274" height="1.05" fill="url(#g28)"/><rect x="52" y="68" width="274" height="1.05" fill="url(#g29)"/><rect x="52" y="69" width="274" height="1.05" fill="url(#g30)"/><rect x="52" y="70" width="274" height="1.05" fill="url(#g31)"/><rect x="52" y="71" width="274" height="1.05" fill="url(#g32)"/><rect x="52" y="72" width="274" height="1.05" fill="url(#g33)"/><rect x="52" y="73" width="274" height="1.05" fill="url(#g34)"/><rect x="52" y="74" width="274" height="1.05" fill="url(#g35)"/><rect x="52" y="75" width="274" height="1.05" fill="url(#g36)"/><rect x="52" y="76" width="274" height="1.05" fill="url(#g37)"/><rect x="52" y="77" width="274" height="1.05" fill="url(#g38)"/><rect x="52" y="78" width="274" height="1.05" fill="url(#g39)"/><rect x="52" y="79" width="274" height="1.05" fill="url(#g40)"/><rect x="52" y="80" width="274" height="1.05" fill="url(#g41)"/><rect x="52" y="81" width="274" height="1.05" fill="url(#g42)"/><rect x="52" y="82" width="274" height="1.05" fill="url(#g43)"/><rect x="52" y="83" width="274" height="1.05" fill="url(#g44)"/><rect x="52" y="84" width="274" height="1.05" fill="url(#g45)"/><rect x="52" y="85" width="274" height="1.05" fill="url(#g46)"/><rect x="52" y="86" width="274" height="1.05" fill="url(#g47)"/><rect x="52" y="87" width="274" height="1.05" fill="url(#g48)"/><rect x="52" y="88" width="274" height="1.05" fill="url(#g49)"/><rect x="52" y="89" width="274" height="1.05" fill="url(#g50)"/><rect x="52" y="90" width="274" height="1.05" fill="url(#g51)"/><rect x="52" y="91" width="274" height="1.05" fill="url(#g52)"/><rect x="52" y="92" width="274" height="1.05" fill="url(#g53)"/><rect x="52" y="93" width="274" height="1.05" fill="url(#g54)"/><rect x="52" y="94" width="274" height="1.05" fill="url(#g55)"/><rect x="52" y="95" width="274" height="1.05" fill="url(#g56)"/><rect x="52" y="96" width="274" height="1.05" fill="url(#g57)"/><rect x="52" y="97" width="274" height="1.05" fill="url(#g58)"/><rect x="52" y="98" width="274" height="1.05" fill="url(#g59)"/><rect x="52" y="99" width="274" height="1.05" fill="url(#g60)"/><rect x="52" y="100" width="274" height="1.05" fill="url(#g61)"/><rect x="52" y="101" width="274" height="1.05" fill="url(#g62)"/><rect x="52" y="102" width="274" height="1.05" fill="url(#g63)"/><rect x="52" y="103" width="274" height="1.05" fill="url(#g64)"/><rect x="52" y="104" width="274" height="1.05" fill="url(#g65)"/><rect x="52" y="105" width="274" height="1.05" fill="url(#g66)"/><rect x="52" y="106" width="274" height="1.05" fill="url(#g67)"/><rect x="52" y="107" width="274" height="1.05" fill="url(#g68)"/><rect x="52" y="108" width="274" height="1.05" fill="url(#g69)"/><rect x="52" y="109" width="274" height="1.05" fill="url(#g70)"/><rect x="52" y="110" width="274" height="1.05" fill="url(#g71)"/><rect x="52" y="111" width="274" height="1.05" fill="url(#g72)"/><rect x="52" y="112" width="274" height="1.05" fill="url(#g73)"/><rect x="52" y="113" width="274" height="1.05" fill="url(#g74)"/><rect x="52" y="114" width="274" height="1.05" fill="url(#g75)"/><rect x="52" y="115" width="274" height="1.05" fill="url(#g76)"/><rect x="52" y="116" width="274" height="1.05" fill="url(#g77)"/><rect x="52" y="117" width="274" height="1.05" fill="url(#g78)"/><rect x="52" y="118" width="274" height="1.05" fill="url(#g79)"/><rect x="52" y="119" width="274" height="1.05" fill="url(#g80)"/><rect x="52" y="120" width="274" height="1.05" fill="url(#g81)"/><rect x="52" y="121" width="274" height="1.05" fill="url(#g82)"/><rect x="52" y="122" width="274" height="1.05" fill="url(#g83)"/><rect x="52" y="123" width="274" height="1.05" fill="url(#g84)"/><rect x="52" y="124" width="274" height="1.05" fill="url(#g85)"/><rect x="52" y="125" width="274" height="1.05" fill="url(#g86)"/><rect x="52" y="126" width="274" height="1.05" fill="url(#g87)"/><rect x="52" y="127" width="274" height="1.05" fill="url(#g88)"/><rect x="52" y="128" width="274" height="1.05" fill="url(#g89)"/><rect x="52" y="129" width="274" height="1.05" fill="url(#g90)"/><rect x="52" y="130" width="274" height="1.05" fill="url(#g91)"/><rect x="52" y="131" width="274" height="1.05" fill="url(#g92)"/><rect x="52" y="132" width="274" height="1.05" fill="url(#g93)"/><rect x="52" y="133" width="274" height="1.05" fill="url(#g94)"/><rect x="52" y="134" width="274" height="1.05" fill="url(#g95)"/><rect x="52" y="135" width="274" height="1.05" fill="url(#g96)"/><rect x="52" y="136" width="274" height="1.05" fill="url(#g97)"/><rect x="52" y="137" width="274" height="1.05" fill="url(#g1)"/><rect x="52" y="138" width="274" height="1.05" fill="url(#g98)"/><rect x="52" y="168" width="274" height="1.05" fill="url(#g99)"/><rect x="52" y="169" width="274" height="1.05" fill="url(#g99)"/><rect x="52" y="170" width="274" height="1.05" fill="url(#g0)"/><rect x="52" y="171" width="274" height="1.05" fill="url(#g100)"/><rect x="52" y="172" width="274" height="1.05" fill="url(#g101)"/><rect x="52" y="173" width="274" height="1.05" fill="url(#g102)"/><rect x="52" y="174" width="274" height="1.05" fill="url(#g103)"/><rect x="52" y="175" width="274" height="1.05" fill="url(#g104)"/><rect x="52" y="176" width="274" height="1.05" fill="url(#g105)"/><rect x="52" y="177" width="274" height="1.05" fill="url(#g106)"/><rect x="52" y="178" width="274" height="1.05" fill="url(#g107)"/><rect x="52" y="179" width="274" height="1.05" fill="url(#g108)"/><rect x="52" y="180" width="274" height="1.05" fill="url(#g109)"/><rect x="52" y="181" width="274" height="1.05" fill="url(#g110)"/><rect x="52" y="182" width="274" height="1.05" fill="url(#g111)"/><rect x="52" y="183" width="274" height="1.05" fill="url(#g112)"/><rect x="52" y="184" width="274" height="1.05" fill="url(#g113)"/><rect x="52" y="185" width="274" height="1.05" fill="url(#g114)"/><rect x="52" y="186" width="274" height="1.05" fill="url(#g115)"/><rect x="52" y="187" width="274" height="1.05" fill="url(#g116)"/><rect x="52" y="188" width="274" height="1.05" fill="url(#g117)"/><rect x="52" y="189" width="274" height="1.05" fill="url(#g118)"/><rect x="52" y="190" width="274" height="1.05" fill="url(#g119)"/><rect x="52" y="191" width="274" height="1.05" fill="url(#g120)"/><rect x="52" y="192" width="274" height="1.05" fill="url(#g121)"/><rect x="52" y="193" width="274" height="1.05" fill="url(#g122)"/><rect x="52" y="194" width="274" height="1.05" fill="url(#g123)"/><rect x="52" y="195" width="274" height="1.05" fill="url(#g124)"/><rect x="52" y="196" width="274" height="1.05" fill="url(#g125)"/><rect x="52" y="197" width="274" height="1.05" fill="url(#g126)"/><rect x="52" y="198" width="274" height="1.05" fill="url(#g127)"/><rect x="52" y="199" width="274" height="1.05" fill="url(#g128)"/><rect x="52" y="200" width="274" height="1.05" fill="url(#g129)"/><rect x="52" y="201" width="274" height="1.05" fill="url(#g130)"/><rect x="52" y="202" width="274" height="1.05" fill="url(#g131)"/><rect x="52" y="203" width="274" height="1.05" fill="url(#g132)"/><rect x="52" y="204" width="274" height="1.05" fill="url(#g133)"/><rect x="52" y="205" width="274" height="1.05" fill="url(#g134)"/><rect x="52" y="206" width="274" height="1.05" fill="url(#g135)"/><rect x="52" y="207" width="274" height="1.05" fill="url(#g136)"/><rect x="52" y="208" width="274" height="1.05" fill="url(#g137)"/><rect x="52" y="209" width="274" height="1.05" fill="url(#g138)"/><rect x="52" y="210" width="274" height="1.05" fill="url(#g139)"/><rect x="52" y="211" width="274" height="1.05" fill="url(#g140)"/><rect x="52" y="212" width="274" height="1.05" fill="url(#g141)"/><rect x="52" y="213" width="274" height="1.05" fill="url(#g142)"/><rect x="52" y="214" width="274" height="1.05" fill="url(#g143)"/><rect x="52" y="215" width="274" height="1.05" fill="url(#g144)"/><rect x="52" y="216" width="274" height="1.05" fill="url(#g145)"/><rect x="52" y="217" width="274" height="1.05" fill="url(#g146)"/><rect x="52" y="218" width="274" height="1.05" fill="url(#g147)"/><rect x="52" y="219" width="274" height="1.05" fill="url(#g148)"/><rect x="52" y="220" width="274" height="1.05" fill="url(#g149)"/><rect x="52" y="221" width="274" height="1.05" fill="url(#g150)"/><rect x="52" y="222" width="274" height="1.05" fill="url(#g151)"/><rect x="52" y="223" width="274" height="1.05" fill="url(#g152)"/><rect x="52" y="224" width="274" height="1.05" fill="url(#g153)"/><rect x="52" y="225" width="274" height="1.05" fill="url(#g154)"/><rect x="52" y="226" width="274" height="1.05" fill="url(#g155)"/><rect x="52" y="227" width="274" height="1.05" fill="url(#g156)"/><rect x="52" y="228" width="274" height="1.05" fill="url(#g157)"/><rect x="52" y="229" width="274" height="1.05" fill="url(#g158)"/><rect x="52" y="230" width="274" height="1.05" fill="url(#g159)"/><rect x="52" y="231" width="274" height="1.05" fill="url(#g160)"/><rect x="52" y="232" width="274" height="1.05" fill="url(#g161)"/><rect x="52" y="233" width="274" height="1.05" fill="url(#g162)"/><rect x="52" y="234" width="274" height="1.05" fill="url(#g163)"/><rect x="52" y="235" width="274" height="1.05" fill="url(#g164)"/><rect x="52" y="236" width="274" height="1.05" fill="url(#g165)"/><rect x="52" y="237" width="274" height="1.05" fill="url(#g166)"/><rect x="52" y="238" width="274" height="1.05" fill="url(#g167)"/><rect x="52" y="239" width="274" height="1.05" fill="url(#g168)"/><rect x="52" y="240" width="274" height="1.05" fill="url(#g169)"/><rect x="52" y="241" width="274" height="1.05" fill="url(#g170)"/><rect x="52" y="242" width="274" height="1.05" fill="url(#g171)"/><rect x="52" y="243" width="274" height="1.05" fill="url(#g172)"/><rect x="52" y="244" width="274" height="1.05" fill="url(#g173)"/><rect x="52" y="245" width="274" height="1.05" fill="url(#g174)"/><rect x="52" y="246" width="274" height="1.05" fill="url(#g175)"/><rect x="52" y="247" width="274" height="1.05" fill="url(#g176)"/><rect x="52" y="248" width="274" height="1.05" fill="url(#g177)"/><rect x="52" y="249" width="274" height="1.05" fill="url(#g178)"/><rect x="52" y="250" width="274" height="1.05" fill="url(#g179)"/><rect x="52" y="251" width="274" height="1.05" fill="url(#g180)"/><rect x="52" y="252" width="274" height="1.05" fill="url(#g181)"/><rect x="52" y="253" width="274" height="1.05" fill="url(#g182)"/><rect x="52" y="254" width="274" height="1.05" fill="url(#g183)"/><rect x="52" y="255" width="274" height="1.05" fill="url(#g184)"/><rect x="52" y="256" width="274" height="1.05" fill="url(#g185)"/><rect x="52" y="257" width="274" height="1.05" fill="url(#g186)"/><rect x="52" y="258" width="274" height="1.05" fill="url(#g187)"/><rect x="52" y="259" width="274" height="1.05" fill="url(#g188)"/><rect x="52" y="260" width="274" height="1.05" fill="url(#g189)"/><rect x="52" y="261" width="274" height="1.05" fill="url(#g190)"/><rect x="52" y="262" width="274" height="1.05" fill="url(#g191)"/><rect x="52" y="263" width="274" height="1.05" fill="url(#g192)"/><rect x="52" y="264" width="274" height="1.05" fill="url(#g193)"/><rect x="52" y="265" width="274" height="1.05" fill="url(#g194)"/><rect x="52" y="266" width="274" height="1.05" fill="url(#g195)"/><rect x="52" y="267" width="274" height="1.05" fill="url(#g195)"/></g>
<path d="M51.4 8.2V298.5H325.7M51.4 12.22H47.6M51.4 19.70H47.6M51.4 27.18H47.6M51.4 34.67H47.6M51.4 42.15H45.3M51.4 49.63H47.6M51.4 57.12H47.6M51.4 64.60H47.6M51.4 72.08H47.6M51.4 79.57H45.3M51.4 87.05H47.6M51.4 94.53H47.6M51.4 102.02H47.6M51.4 109.50H47.6M51.4 116.98H45.3M51.4 124.47H47.6M51.4 131.95H47.6M51.4 139.43H47.6M51.4 146.92H47.6M51.4 154.40H45.3M51.4 161.88H47.6M51.4 169.37H47.6M51.4 176.85H47.6M51.4 184.33H47.6M51.4 191.82H45.3M51.4 199.30H47.6M51.4 206.78H47.6M51.4 214.27H47.6M51.4 221.75H47.6M51.4 229.24H45.3M51.4 236.72H47.6M51.4 244.20H47.6M51.4 251.69H47.6M51.4 259.17H47.6M51.4 266.65H45.3M51.4 274.14H47.6M51.4 281.62H47.6M51.4 289.10H47.6M51.4 296.59H47.6M51.70 298.5V304.8M59.29 298.5V302.7M66.89 298.5V302.7M74.48 298.5V302.7M82.08 298.5V302.7M89.67 298.5V302.7M97.27 298.5V304.8M104.86 298.5V302.7M112.46 298.5V302.7M120.05 298.5V302.7M127.64 298.5V302.7M135.24 298.5V302.7M142.83 298.5V304.8M150.43 298.5V302.7M158.02 298.5V302.7M165.62 298.5V302.7M173.21 298.5V302.7M180.81 298.5V302.7M188.40 298.5V304.8M195.99 298.5V302.7M203.59 298.5V302.7M211.18 298.5V302.7M218.78 298.5V302.7M226.37 298.5V302.7M233.97 298.5V304.8M241.56 298.5V302.7M249.16 298.5V302.7M256.75 298.5V302.7M264.34 298.5V302.7M271.94 298.5V302.7M279.53 298.5V304.8M287.13 298.5V302.7M294.72 298.5V302.7M302.32 298.5V302.7M309.91 298.5V302.7M317.51 298.5V302.7M325.10 298.5V304.8" stroke="#000" stroke-width="1.1" fill="none"/>
<text x="40" y="271.7" font-size="14.3" text-anchor="end">40</text>
<text x="40" y="234.2" font-size="14.3" text-anchor="end">41</text>
<text x="40" y="196.8" font-size="14.3" text-anchor="end">42</text>
<text x="40" y="159.4" font-size="14.3" text-anchor="end">43</text>
<text x="40" y="122.0" font-size="14.3" text-anchor="end">44</text>
<text x="40" y="84.6" font-size="14.3" text-anchor="end">45</text>
<text x="40" y="47.1" font-size="14.3" text-anchor="end">46</text>
<text x="51.7" y="320.5" font-size="14.3" text-anchor="middle">0</text>
<text x="142.8" y="320.5" font-size="14.3" text-anchor="middle">2</text>
<text x="234.0" y="320.5" font-size="14.3" text-anchor="middle">4</text>
<text x="325.1" y="320.5" font-size="14.3" text-anchor="middle">6</text>
<text x="188.1" y="338.6" font-size="14.65" text-anchor="middle">Time (min)</text>
<text transform="translate(11,153.4) rotate(-90)" font-size="14.55" text-anchor="middle">Binding energy (eV)</text>
<text x="1" y="15.9" font-size="21" font-weight="bold">a</text>
<text x="220.3" y="96.8" font-size="12.6" text-anchor="middle" style="fill:#fff">As-oxide</text>
<text x="285.3" y="236" font-size="12.6" text-anchor="middle">As–In</text>
<text x="364.8" y="31" font-size="14.3" text-anchor="middle">As 3d</text>
<text x="364.4" y="79" font-size="14.3" text-anchor="middle">Counts</text>
<text x="364.4" y="96.3" font-size="14.3" text-anchor="middle">(×1000)</text>
<rect x="336.9" y="108.3" width="24.7" height="189.8" fill="url(#cb)" stroke="#222" stroke-width="0.9"/>
<path d="M361.6 297.82H367.3M361.6 272.10H369.5M361.6 246.38H367.3M361.6 220.66H369.5M361.6 194.94H367.3M361.6 169.22H369.5M361.6 143.50H367.3M361.6 117.78H369.5" stroke="#000" stroke-width="1.1" fill="none"/>
<text x="376.2" y="276.4" font-size="14.3">4</text>
<text x="376.2" y="225.0" font-size="14.3">8</text>
<text x="376.2" y="173.5" font-size="14.3">12</text>
<text x="376.2" y="122.1" font-size="14.3">16</text>
<text x="409.3" y="15.8" font-size="21" font-weight="bold">b</text>
<path d="M568.5 296.5V140.6H617.3M617.3 296.5V140.6" stroke="#777" stroke-width="1.1" stroke-dasharray="1.2 1.1" fill="none"/>
<path d="M472.6 84.9V296.5H761M472.6 296.50H467.9M472.6 266.47H469.3M472.6 236.44H467.9M472.6 206.41H469.3M472.6 176.38H467.9M472.6 146.35H469.3M472.6 116.32H467.9M472.6 86.29H469.3M472.60 296.5V301.3M480.60 296.5V299.8M488.59 296.5V299.8M496.59 296.5V299.8M504.59 296.5V299.8M512.59 296.5V299.8M520.58 296.5V301.3M528.58 296.5V299.8M536.58 296.5V299.8M544.57 296.5V299.8M552.57 296.5V299.8M560.57 296.5V299.8M568.56 296.5V301.3M576.56 296.5V299.8M584.56 296.5V299.8M592.56 296.5V299.8M600.55 296.5V299.8M608.55 296.5V299.8M616.55 296.5V301.3M624.54 296.5V299.8M632.54 296.5V299.8M640.54 296.5V299.8M648.53 296.5V299.8M656.53 296.5V299.8M664.53 296.5V301.3M672.52 296.5V299.8M680.52 296.5V299.8M688.52 296.5V299.8M696.52 296.5V299.8M704.51 296.5V299.8M712.51 296.5V301.3M720.51 296.5V299.8M728.50 296.5V299.8M736.50 296.5V299.8M744.50 296.5V299.8M752.50 296.5V299.8M760.49 296.5V301.3" stroke="#000" stroke-width="1.35" fill="none"/>
<path d="M568.5 296.3H617.3" stroke="#c8c8c8" stroke-width="0.9" stroke-dasharray="1.2 1.1" fill="none"/>
<text x="462.5" y="301.5" font-size="14.3" text-anchor="end">0</text>
<text x="462.5" y="241.4" font-size="14.3" text-anchor="end">2000</text>
<text x="462.5" y="181.4" font-size="14.3" text-anchor="end">4000</text>
<text x="462.5" y="121.3" font-size="14.3" text-anchor="end">6000</text>
<text x="472.6" y="318.1" font-size="14.3" text-anchor="middle">0</text>
<text x="520.6" y="318.1" font-size="14.3" text-anchor="middle">60</text>
<text x="568.6" y="318.1" font-size="14.3" text-anchor="middle">120</text>
<text x="616.5" y="318.1" font-size="14.3" text-anchor="middle">180</text>
<text x="664.5" y="318.1" font-size="14.3" text-anchor="middle">240</text>
<text x="712.5" y="318.1" font-size="14.3" text-anchor="middle">300</text>
<text x="760.5" y="318.1" font-size="14.3" text-anchor="middle">360</text>
<text x="616.8" y="340.1" font-size="14.3" text-anchor="middle">Time (s)</text>
<text transform="translate(420.8,191.2) rotate(-90)" font-size="14.3" text-anchor="middle">Counts</text>
<text x="484.9" y="76.1" font-size="14.3" style="fill:#fb0a12">Binding</text>
<text x="484.9" y="93.4" font-size="14.3" style="fill:#fb0a12">energy =</text>
<text x="484.9" y="110.7" font-size="14.3" style="fill:#fb0a12">44.6 eV</text>
<path d="M617.3 33.6V165.6H777.3M617.3 165.60H613.6M617.3 141.50H614.9M617.3 117.40H613.6M617.3 93.30H614.9M617.3 69.20H613.6M617.3 45.10H614.9M617.30 165.6V169.3M643.92 165.6V167.9M670.54 165.6V169.3M697.16 165.6V167.9M723.78 165.6V169.3M750.40 165.6V167.9M777.02 165.6V169.3" stroke="#000" stroke-width="1.35" fill="none"/>
<text x="608.2" y="169.8" font-size="12.3" text-anchor="end">0</text>
<text x="608.2" y="121.6" font-size="12.3" text-anchor="end">2000</text>
<text x="608.2" y="73.4" font-size="12.3" text-anchor="end">4000</text>
<text x="617.3" y="185.2" font-size="12.3" text-anchor="middle">120</text>
<text x="670.5" y="185.2" font-size="12.3" text-anchor="middle">140</text>
<text x="723.8" y="185.2" font-size="12.3" text-anchor="middle">160</text>
<text x="777.0" y="185.2" font-size="12.3" text-anchor="middle">180</text>
<path d="M472.6 146.3h0 M472.8 144.1h0 M473.0 148.5h0 M473.2 153.2h0 M473.4 149.9h0 M473.6 154.0h0 M473.8 146.0h0 M474.0 136.2h0 M474.2 150.3h0 M474.4 151.3h0 M474.6 142.8h0 M474.8 143.8h0 M475.0 145.8h0 M475.2 153.7h0 M475.4 146.8h0 M475.6 141.3h0 M475.8 156.9h0 M476.0 150.2h0 M476.2 161.2h0 M476.4 156.5h0 M476.6 160.8h0 M476.8 148.5h0 M477.0 156.4h0 M477.2 144.7h0 M477.4 145.6h0 M477.6 148.2h0 M477.8 166.0h0 M478.0 151.0h0 M478.2 147.2h0 M478.4 146.0h0 M478.6 158.6h0 M478.8 150.6h0 M479.0 154.4h0 M479.2 153.1h0 M479.4 138.9h0 M479.6 153.1h0 M479.8 147.2h0 M480.0 140.3h0 M480.2 151.5h0 M480.4 147.9h0 M480.6 146.2h0 M480.8 146.6h0 M481.0 156.4h0 M481.2 146.5h0 M481.4 136.8h0 M481.6 159.0h0 M481.8 140.6h0 M482.0 146.3h0 M482.2 152.1h0 M482.4 132.0h0 M482.6 141.4h0 M482.8 156.4h0 M483.0 146.7h0 M483.2 142.9h0 M483.4 148.8h0 M483.6 142.1h0 M483.8 147.9h0 M484.0 142.3h0 M484.2 136.4h0 M484.4 152.6h0 M484.6 145.9h0 M484.8 151.0h0 M485.0 146.5h0 M485.2 156.5h0 M485.4 151.9h0 M485.6 149.0h0 M485.8 140.7h0 M486.0 138.8h0 M486.2 157.6h0 M486.4 153.6h0 M486.6 142.7h0 M486.8 162.8h0 M487.0 151.2h0 M487.2 148.4h0 M487.4 138.1h0 M487.6 142.5h0 M487.8 150.2h0 M488.0 150.5h0 M488.2 149.7h0 M488.4 136.2h0 M488.6 151.0h0 M488.8 150.1h0 M489.0 145.1h0 M489.2 148.8h0 M489.4 149.4h0 M489.6 156.3h0 M489.8 148.0h0 M490.0 151.3h0 M490.2 139.1h0 M490.4 143.0h0 M490.6 148.2h0 M490.8 142.9h0 M491.0 150.6h0 M491.2 140.0h0 M491.4 148.1h0 M491.6 143.6h0 M491.8 157.9h0 M492.0 145.5h0 M492.2 160.9h0 M492.4 163.6h0 M492.6 150.5h0 M492.8 155.0h0 M493.0 146.9h0 M493.2 131.2h0 M493.4 154.5h0 M493.6 153.0h0 M493.8 146.7h0 M494.0 144.5h0 M494.2 149.6h0 M494.4 149.9h0 M494.6 143.0h0 M494.8 144.4h0 M495.0 156.2h0 M495.2 149.0h0 M495.4 148.1h0 M495.6 156.4h0 M495.8 146.5h0 M496.0 155.0h0 M496.2 141.1h0 M496.4 147.0h0 M496.6 147.8h0 M496.8 153.0h0 M497.0 149.4h0 M497.2 163.7h0 M497.4 157.1h0 M497.6 145.9h0 M497.8 164.7h0 M498.0 142.2h0 M498.2 161.9h0 M498.4 143.0h0 M498.6 155.1h0 M498.8 142.8h0 M499.0 147.7h0 M499.2 160.4h0 M499.4 139.3h0 M499.6 137.9h0 M499.8 149.3h0 M500.0 150.9h0 M500.2 150.0h0 M500.4 156.2h0 M500.6 140.6h0 M500.8 153.0h0 M501.0 149.3h0 M501.2 154.9h0 M501.4 153.7h0 M501.6 158.6h0 M501.8 139.5h0 M502.0 150.2h0 M502.2 141.7h0 M502.4 148.9h0 M502.6 154.3h0 M502.8 151.5h0 M503.0 153.3h0 M503.2 149.0h0 M503.4 152.0h0 M503.6 151.4h0 M503.8 159.6h0 M504.0 155.3h0 M504.2 136.7h0 M504.4 154.3h0 M504.6 157.2h0 M504.8 146.7h0 M505.0 138.7h0 M505.2 160.2h0 M505.4 150.9h0 M505.6 154.1h0 M505.8 162.6h0 M506.0 143.8h0 M506.2 149.6h0 M506.4 148.9h0 M506.6 155.1h0 M506.8 146.0h0 M507.0 153.5h0 M507.2 150.5h0 M507.4 157.8h0 M507.6 158.7h0 M507.8 139.5h0 M508.0 153.4h0 M508.2 147.4h0 M508.4 149.8h0 M508.6 152.9h0 M508.8 153.4h0 M509.0 144.9h0 M509.2 151.9h0 M509.4 150.8h0 M509.6 149.5h0 M509.8 140.9h0 M510.0 144.6h0 M510.2 146.9h0 M510.4 154.0h0 M510.6 160.2h0 M510.8 142.7h0 M511.0 142.5h0 M511.2 150.9h0 M511.4 145.8h0 M511.6 144.0h0 M511.8 143.6h0 M512.0 143.0h0 M512.2 153.3h0 M512.4 138.6h0 M512.6 159.3h0 M512.8 143.5h0 M513.0 146.3h0 M513.2 143.4h0 M513.4 135.9h0 M513.6 138.9h0 M513.8 158.6h0 M514.0 162.7h0 M514.2 143.9h0 M514.4 157.7h0 M514.6 150.2h0 M514.8 143.8h0 M515.0 162.4h0 M515.2 165.9h0 M515.4 148.2h0 M515.6 149.8h0 M515.8 152.0h0 M516.0 149.8h0 M516.2 156.6h0 M516.4 161.5h0 M516.6 151.4h0 M516.8 157.5h0 M517.0 162.5h0 M517.2 146.4h0 M517.4 150.7h0 M517.6 147.2h0 M517.8 157.6h0 M518.0 155.2h0 M518.2 157.7h0 M518.4 156.9h0 M518.6 148.8h0 M518.8 156.1h0 M519.0 147.6h0 M519.2 147.8h0 M519.4 135.1h0 M519.6 160.8h0 M519.8 143.7h0 M520.0 151.0h0 M520.2 150.5h0 M520.4 161.2h0 M520.6 153.8h0 M520.8 144.8h0 M521.0 151.0h0 M521.2 149.8h0 M521.4 152.6h0 M521.6 141.8h0 M521.8 150.6h0 M522.0 166.9h0 M522.2 155.6h0 M522.4 165.2h0 M522.6 174.8h0 M522.8 154.5h0 M523.0 140.5h0 M523.2 150.2h0 M523.4 159.3h0 M523.6 157.6h0 M523.8 142.1h0 M524.0 149.4h0 M524.2 150.2h0 M524.4 151.0h0 M524.6 150.3h0 M524.8 144.6h0 M525.0 146.5h0 M525.2 149.0h0 M525.4 158.4h0 M525.6 146.8h0 M525.8 155.8h0 M526.0 142.5h0 M526.2 160.2h0 M526.4 151.7h0 M526.6 150.7h0 M526.8 160.6h0 M527.0 137.8h0 M527.2 139.8h0 M527.4 154.2h0 M527.6 145.0h0 M527.8 147.9h0 M528.0 170.3h0 M528.2 148.9h0 M528.4 151.2h0 M528.6 150.2h0 M528.8 158.8h0 M529.0 152.8h0 M529.2 152.2h0 M529.4 142.0h0 M529.6 148.3h0 M529.8 150.9h0 M530.0 139.4h0 M530.2 155.0h0 M530.4 153.8h0 M530.6 164.5h0 M530.8 139.2h0 M531.0 143.7h0 M531.2 144.1h0 M531.4 145.9h0 M531.6 150.1h0 M531.8 149.4h0 M532.0 152.9h0 M532.2 152.5h0 M532.4 150.6h0 M532.6 139.7h0 M532.8 146.9h0 M533.0 151.5h0 M533.2 155.4h0 M533.4 155.8h0 M533.6 139.1h0 M533.8 147.3h0 M534.0 150.6h0 M534.2 153.7h0 M534.4 159.4h0 M534.6 151.6h0 M534.8 144.6h0 M535.0 154.1h0 M535.2 152.8h0 M535.4 152.8h0 M535.6 150.3h0 M535.8 163.0h0 M536.0 152.9h0 M536.2 157.6h0 M536.4 144.6h0 M536.6 157.0h0 M536.8 146.9h0 M537.0 139.9h0 M537.2 153.6h0 M537.4 155.7h0 M537.6 149.8h0 M537.8 151.3h0 M538.0 158.7h0 M538.2 147.9h0 M538.4 136.3h0 M538.6 153.2h0 M538.8 152.8h0 M539.0 159.1h0 M539.2 149.0h0 M539.4 160.6h0 M539.6 159.6h0 M539.8 141.8h0 M540.0 158.1h0 M540.2 143.3h0 M540.4 140.1h0 M540.6 149.5h0 M540.8 147.3h0 M541.0 136.9h0 M541.2 152.9h0 M541.4 155.9h0 M541.6 161.5h0 M541.8 151.2h0 M542.0 140.5h0 M542.2 144.4h0 M542.4 158.5h0 M542.6 157.9h0 M542.8 155.3h0 M543.0 149.4h0 M543.2 153.1h0 M543.4 150.0h0 M543.6 149.4h0 M543.8 153.8h0 M544.0 151.9h0 M544.2 150.1h0 M544.4 152.2h0 M544.6 147.9h0 M544.8 137.7h0 M545.0 147.2h0 M545.2 151.2h0 M545.4 164.2h0 M545.6 148.8h0 M545.8 166.2h0 M546.0 162.2h0 M546.2 145.4h0 M546.4 144.6h0 M546.6 153.2h0 M546.8 168.9h0 M547.0 155.5h0 M547.2 158.8h0 M547.4 145.8h0 M547.6 129.8h0 M547.8 150.4h0 M548.0 160.6h0 M548.2 164.7h0 M548.4 153.8h0 M548.6 155.2h0 M548.8 165.1h0 M549.0 152.7h0 M549.2 165.5h0 M549.4 143.3h0 M549.6 144.1h0 M549.8 144.1h0 M550.0 159.6h0 M550.2 150.1h0 M550.4 156.7h0 M550.6 159.4h0 M550.8 159.2h0 M551.0 168.8h0 M551.2 170.4h0 M551.4 148.7h0 M551.6 158.6h0 M551.8 154.8h0 M552.0 147.4h0 M552.2 174.2h0 M552.4 165.2h0 M552.6 156.1h0 M552.8 154.1h0 M553.0 161.7h0 M553.2 148.3h0 M553.4 156.3h0 M553.6 170.2h0 M553.8 167.6h0 M554.0 151.1h0 M554.2 154.5h0 M554.4 177.4h0 M554.6 146.3h0 M554.8 153.7h0 M555.0 146.7h0 M555.2 163.4h0 M555.4 162.7h0 M555.6 170.8h0 M555.8 142.2h0 M556.0 161.6h0 M556.2 149.2h0 M556.4 165.2h0 M556.6 159.6h0 M556.8 172.7h0 M557.0 163.8h0 M557.2 154.3h0 M557.4 170.2h0 M557.6 153.9h0 M557.8 159.1h0 M558.0 168.9h0 M558.2 165.1h0 M558.4 164.9h0 M558.6 162.0h0 M558.8 165.5h0 M559.0 167.6h0 M559.2 164.0h0 M559.4 169.1h0 M559.6 171.0h0 M559.8 162.3h0 M560.0 155.9h0 M560.2 172.8h0 M560.4 162.1h0 M560.6 166.8h0 M560.8 169.1h0 M561.0 156.4h0 M561.2 166.0h0 M561.4 152.0h0 M561.6 167.9h0 M561.8 159.8h0 M562.0 164.2h0 M562.2 167.9h0 M562.4 158.6h0 M562.6 163.8h0 M562.8 158.6h0 M563.0 163.2h0 M563.2 170.5h0 M563.4 163.7h0 M563.6 162.7h0 M563.8 156.4h0 M564.0 169.4h0 M564.2 163.5h0 M564.4 175.2h0 M564.6 158.8h0 M564.8 170.9h0 M565.0 175.9h0 M565.2 163.9h0 M565.4 155.8h0 M565.6 174.1h0 M565.8 171.2h0 M566.0 168.8h0 M566.2 171.5h0 M566.4 161.2h0 M566.6 169.4h0 M566.8 168.9h0 M567.0 159.9h0 M567.2 169.2h0 M567.4 161.1h0 M567.6 170.8h0 M567.8 172.5h0 M568.0 176.9h0 M568.2 151.4h0 M568.4 166.5h0 M568.6 162.7h0 M568.8 164.5h0 M569.0 163.1h0 M569.2 163.8h0 M569.4 150.9h0 M569.6 171.2h0 M569.8 174.7h0 M570.0 170.8h0 M570.2 173.0h0 M570.4 158.5h0 M570.6 157.9h0 M570.8 170.2h0 M571.0 173.1h0 M571.2 165.9h0 M571.4 153.7h0 M571.6 182.8h0 M571.8 159.5h0 M572.0 170.6h0 M572.2 155.8h0 M572.4 170.4h0 M572.6 164.9h0 M572.8 173.3h0 M573.0 169.5h0 M573.2 153.0h0 M573.4 156.8h0 M573.6 165.3h0 M573.8 168.5h0 M574.0 175.6h0 M574.2 165.0h0 M574.4 162.4h0 M574.6 162.7h0 M574.8 162.7h0 M575.0 169.8h0 M575.2 162.4h0 M575.4 162.1h0 M575.6 152.7h0 M575.8 148.6h0 M576.0 162.6h0 M576.2 166.9h0 M576.4 161.9h0 M576.6 165.6h0 M576.8 166.8h0 M577.0 162.2h0 M577.2 169.3h0 M577.4 158.0h0 M577.6 163.1h0 M577.8 160.9h0 M578.0 164.1h0 M578.2 168.1h0 M578.4 169.8h0 M578.6 165.1h0 M578.8 167.5h0 M579.0 162.3h0 M579.2 164.1h0 M579.4 173.7h0 M579.6 164.1h0 M579.8 174.0h0 M580.0 169.2h0 M580.2 167.2h0 M580.4 179.6h0 M580.6 164.9h0 M580.8 164.7h0 M581.0 167.1h0 M581.2 169.1h0 M581.4 169.0h0 M581.6 173.3h0 M581.8 168.7h0 M582.0 170.8h0 M582.2 166.6h0 M582.4 175.6h0 M582.6 166.1h0 M582.8 166.9h0 M583.0 169.0h0 M583.2 171.3h0 M583.4 164.8h0 M583.6 179.9h0 M583.8 165.8h0 M584.0 167.5h0 M584.2 167.5h0 M584.4 167.0h0 M584.6 174.1h0 M584.8 172.2h0 M585.0 167.0h0 M585.2 169.1h0 M585.4 171.2h0 M585.6 183.2h0 M585.8 170.5h0 M586.0 167.2h0 M586.2 168.9h0 M586.4 174.6h0 M586.6 186.8h0 M586.8 171.6h0 M587.0 179.2h0 M587.2 194.9h0 M587.4 177.3h0 M587.6 189.7h0 M587.8 189.1h0 M588.0 185.7h0 M588.2 174.7h0 M588.4 185.4h0 M588.6 182.2h0 M588.8 174.4h0 M589.0 176.4h0 M589.2 187.7h0 M589.4 189.5h0 M589.6 196.5h0 M589.8 194.2h0 M590.0 188.8h0 M590.2 190.0h0 M590.4 192.7h0 M590.6 188.8h0 M590.8 199.8h0 M591.0 196.8h0 M591.2 193.5h0 M591.4 195.4h0 M591.6 193.8h0 M591.8 198.6h0 M592.0 203.4h0 M592.2 200.9h0 M592.4 209.1h0 M592.6 213.4h0 M592.8 203.3h0 M593.0 207.9h0 M593.2 207.4h0 M593.4 218.8h0 M593.6 213.5h0 M593.8 215.9h0 M594.0 218.5h0 M594.2 226.4h0 M594.4 218.6h0 M594.6 214.3h0 M594.8 218.0h0 M595.0 223.8h0 M595.2 222.5h0 M595.4 220.5h0 M595.6 237.2h0 M595.8 227.1h0 M596.0 225.6h0 M596.2 226.4h0 M596.4 223.6h0 M596.6 227.3h0 M596.8 231.8h0 M597.0 233.0h0 M597.2 232.2h0 M597.4 238.5h0 M597.6 237.7h0 M597.8 235.3h0 M598.0 232.5h0 M598.2 241.5h0 M598.4 242.2h0 M598.6 242.5h0 M598.8 239.6h0 M599.0 245.6h0 M599.2 241.5h0 M599.4 251.0h0 M599.6 249.5h0 M599.8 250.6h0 M600.0 248.5h0 M600.2 248.8h0 M600.4 258.1h0 M600.6 257.3h0 M600.8 253.8h0 M601.0 257.2h0 M601.2 260.2h0 M601.4 252.7h0 M601.6 254.7h0 M601.8 255.0h0 M602.0 258.3h0 M602.2 254.1h0 M602.4 258.3h0 M602.6 254.7h0 M602.8 261.0h0 M603.0 261.1h0 M603.2 258.3h0 M603.4 261.3h0 M603.6 257.7h0 M603.8 259.2h0 M604.0 263.0h0 M604.2 260.5h0 M604.4 262.0h0 M604.6 258.8h0 M604.8 263.2h0 M605.0 262.8h0 M605.2 258.2h0 M605.4 255.4h0 M605.6 256.2h0 M605.8 261.7h0 M605.9 261.4h0 M606.1 257.8h0 M606.3 262.5h0 M606.5 265.0h0 M606.7 262.0h0 M606.9 261.2h0 M607.1 264.8h0 M607.3 267.2h0 M607.5 266.7h0 M607.7 261.0h0 M607.9 265.0h0 M608.1 263.4h0 M608.3 262.5h0 M608.5 261.5h0 M608.7 264.1h0 M608.9 261.8h0 M609.1 265.7h0 M609.3 264.3h0 M609.5 266.1h0 M609.7 260.2h0 M609.9 263.4h0 M610.1 265.4h0 M610.3 264.3h0 M610.5 264.0h0 M610.7 261.5h0 M610.9 267.8h0 M611.1 266.3h0 M611.3 264.5h0 M611.5 256.6h0 M611.7 260.9h0 M611.9 263.9h0 M612.1 261.6h0 M612.3 258.0h0 M612.5 264.3h0 M612.7 264.6h0 M612.9 260.4h0 M613.1 262.3h0 M613.3 261.9h0 M613.5 265.1h0 M613.7 258.5h0 M613.9 259.1h0 M614.1 262.3h0 M614.3 262.0h0 M614.5 269.4h0 M614.7 262.1h0 M614.9 264.4h0 M615.1 262.7h0 M615.3 262.1h0 M615.5 264.9h0 M615.7 268.6h0 M615.9 263.0h0 M616.1 266.0h0 M616.3 264.9h0 M616.5 265.7h0 M616.7 265.0h0 M616.9 270.3h0 M617.1 260.8h0 M617.3 263.4h0 M617.5 261.1h0 M617.7 258.7h0 M617.9 264.0h0 M618.1 269.0h0 M618.3 266.5h0 M618.5 267.4h0 M618.7 265.4h0 M618.9 263.9h0 M619.1 269.5h0 M619.3 263.2h0 M619.5 268.2h0 M619.7 263.3h0 M619.9 264.4h0 M620.1 264.9h0 M620.3 264.3h0 M620.5 265.5h0 M620.7 265.7h0 M620.9 268.7h0 M621.1 264.2h0 M621.3 259.1h0 M621.5 258.7h0 M621.7 260.5h0 M621.9 262.2h0 M622.1 265.9h0 M622.3 260.2h0 M622.5 264.2h0 M622.7 264.3h0 M622.9 264.9h0 M623.1 263.8h0 M623.3 265.3h0 M623.5 264.3h0 M623.7 267.0h0 M623.9 265.1h0 M624.1 257.9h0 M624.3 264.3h0 M624.5 264.7h0 M624.7 262.7h0 M624.9 262.2h0 M625.1 267.1h0 M625.3 264.7h0 M625.5 261.6h0 M625.7 263.4h0 M625.9 263.8h0 M626.1 259.9h0 M626.3 265.9h0 M626.5 263.9h0 M626.7 265.5h0 M626.9 260.1h0 M627.1 269.4h0 M627.3 265.9h0 M627.5 265.5h0 M627.7 262.3h0 M627.9 262.5h0 M628.1 260.3h0 M628.3 268.4h0 M628.5 262.1h0 M628.7 264.9h0 M628.9 265.9h0 M629.1 262.7h0 M629.3 266.6h0 M629.5 269.8h0 M629.7 265.1h0 M629.9 268.2h0 M630.1 265.9h0 M630.3 263.1h0 M630.5 263.3h0 M630.7 259.8h0 M630.9 264.7h0 M631.1 268.3h0 M631.3 266.2h0 M631.5 266.6h0 M631.7 267.4h0 M631.9 263.0h0 M632.1 265.9h0 M632.3 269.5h0 M632.5 262.2h0 M632.7 264.4h0 M632.9 263.2h0 M633.1 263.9h0 M633.3 262.4h0 M633.5 264.0h0 M633.7 260.8h0 M633.9 263.0h0 M634.1 263.1h0 M634.3 263.0h0 M634.5 268.1h0 M634.7 264.6h0 M634.9 264.8h0 M635.1 263.6h0 M635.3 267.8h0 M635.5 259.7h0 M635.7 263.9h0 M635.9 267.4h0 M636.1 268.8h0 M636.3 264.9h0 M636.5 264.4h0 M636.7 266.1h0 M636.9 263.9h0 M637.1 265.9h0 M637.3 262.7h0 M637.5 266.1h0 M637.7 264.3h0 M637.9 261.5h0 M638.1 257.2h0 M638.3 266.9h0 M638.5 265.4h0 M638.7 266.4h0 M638.9 262.0h0 M639.1 267.3h0 M639.3 265.5h0 M639.5 264.2h0 M639.7 266.8h0 M639.9 266.8h0 M640.1 265.5h0 M640.3 269.9h0 M640.5 268.1h0 M640.7 265.3h0 M640.9 263.8h0 M641.1 264.7h0 M641.3 269.0h0 M641.5 265.4h0 M641.7 262.0h0 M641.9 262.7h0 M642.1 264.4h0 M642.3 266.6h0 M642.5 262.5h0 M642.7 265.7h0 M642.9 267.3h0 M643.1 266.4h0 M643.3 260.3h0 M643.5 263.6h0 M643.7 261.0h0 M643.9 265.5h0 M644.1 261.6h0 M644.3 265.8h0 M644.5 264.6h0 M644.7 257.5h0 M644.9 262.1h0 M645.1 265.5h0 M645.3 264.4h0 M645.5 263.3h0 M645.7 260.9h0 M645.9 265.5h0 M646.1 268.9h0 M646.3 264.9h0 M646.5 264.2h0 M646.7 263.9h0 M646.9 260.6h0 M647.1 263.3h0 M647.3 262.0h0 M647.5 267.2h0 M647.7 261.8h0 M647.9 258.5h0 M648.1 262.1h0 M648.3 263.5h0 M648.5 263.8h0 M648.7 259.4h0 M648.9 266.7h0 M649.1 264.5h0 M649.3 263.0h0 M649.5 262.2h0 M649.7 265.4h0 M649.9 263.4h0 M650.1 265.0h0 M650.3 263.9h0 M650.5 264.6h0 M650.7 267.3h0 M650.9 264.3h0 M651.1 261.8h0 M651.3 266.8h0 M651.5 264.9h0 M651.7 262.4h0 M651.9 267.1h0 M652.1 263.7h0 M652.3 267.1h0 M652.5 261.1h0 M652.7 258.0h0 M652.9 258.7h0 M653.1 264.8h0 M653.3 262.2h0 M653.5 263.9h0 M653.7 263.9h0 M653.9 260.0h0 M654.1 267.8h0 M654.3 261.4h0 M654.5 264.4h0 M654.7 260.4h0 M654.9 263.7h0 M655.1 266.0h0 M655.3 263.5h0 M655.5 262.2h0 M655.7 264.1h0 M655.9 262.9h0 M656.1 265.6h0 M656.3 270.0h0 M656.5 261.8h0 M656.7 262.3h0 M656.9 263.8h0 M657.1 264.1h0 M657.3 261.4h0 M657.5 265.5h0 M657.7 266.2h0 M657.9 264.8h0 M658.1 261.0h0 M658.3 268.0h0 M658.5 261.0h0 M658.7 266.0h0 M658.9 267.2h0 M659.1 260.8h0 M659.3 264.5h0 M659.5 267.8h0 M659.7 265.2h0 M659.9 261.7h0 M660.1 261.0h0 M660.3 265.4h0 M660.5 263.2h0 M660.7 262.3h0 M660.9 266.0h0 M661.1 263.3h0 M661.3 264.3h0 M661.5 265.7h0 M661.7 265.6h0 M661.9 264.1h0 M662.1 264.2h0 M662.3 265.8h0 M662.5 265.4h0 M662.7 261.2h0 M662.9 263.7h0 M663.1 261.9h0 M663.3 261.0h0 M663.5 262.7h0 M663.7 258.1h0 M663.9 266.5h0 M664.1 262.1h0 M664.3 265.1h0 M664.5 259.2h0 M664.7 259.7h0 M664.9 269.6h0 M665.1 266.9h0 M665.3 262.5h0 M665.5 262.1h0 M665.7 262.3h0 M665.9 264.5h0 M666.1 263.0h0 M666.3 262.5h0 M666.5 264.5h0 M666.7 261.5h0 M666.9 270.4h0 M667.1 262.6h0 M667.3 267.1h0 M667.5 261.7h0 M667.7 264.9h0 M667.9 266.7h0 M668.1 263.3h0 M668.3 266.7h0 M668.5 266.8h0 M668.7 268.5h0 M668.9 264.4h0 M669.1 262.9h0 M669.3 261.5h0 M669.5 264.7h0 M669.7 261.5h0 M669.9 264.2h0 M670.1 264.5h0 M670.3 262.7h0 M670.5 261.4h0 M670.7 265.2h0 M670.9 265.0h0 M671.1 264.7h0 M671.3 264.1h0 M671.5 266.7h0 M671.7 261.5h0 M671.9 265.4h0 M672.1 263.0h0 M672.3 266.5h0 M672.5 263.3h0 M672.7 263.2h0 M672.9 265.4h0 M673.1 258.8h0 M673.3 263.3h0 M673.5 259.5h0 M673.7 261.7h0 M673.9 266.1h0 M674.1 265.3h0 M674.3 263.1h0 M674.5 264.1h0 M674.7 264.2h0 M674.9 265.1h0 M675.1 269.2h0 M675.3 264.9h0 M675.5 270.3h0 M675.7 263.3h0 M675.9 266.3h0 M676.1 266.3h0 M676.3 264.9h0 M676.5 263.6h0 M676.7 268.2h0 M676.9 269.0h0 M677.1 267.2h0 M677.3 269.8h0 M677.5 266.9h0 M677.7 260.0h0 M677.9 267.2h0 M678.1 262.6h0 M678.3 268.0h0 M678.5 263.5h0 M678.7 265.2h0 M678.9 264.5h0 M679.1 262.8h0 M679.3 259.6h0 M679.5 263.8h0 M679.7 264.0h0 M679.9 267.0h0 M680.1 262.8h0 M680.3 265.0h0 M680.5 262.1h0 M680.7 264.5h0 M680.9 259.6h0 M681.1 269.7h0 M681.3 265.1h0 M681.5 262.0h0 M681.7 265.3h0 M681.9 266.5h0 M682.1 265.1h0 M682.3 268.1h0 M682.5 264.0h0 M682.7 257.7h0 M682.9 261.3h0 M683.1 267.3h0 M683.3 266.7h0 M683.5 265.4h0 M683.7 261.6h0 M683.9 266.6h0 M684.1 266.2h0 M684.3 262.0h0 M684.5 262.0h0 M684.7 265.4h0 M684.9 267.4h0 M685.1 268.5h0 M685.3 266.2h0 M685.5 270.4h0 M685.7 262.3h0 M685.9 266.1h0 M686.1 263.1h0 M686.3 259.3h0 M686.5 261.2h0 M686.7 267.5h0 M686.9 262.0h0 M687.1 261.2h0 M687.3 266.4h0 M687.5 266.9h0 M687.7 264.7h0 M687.9 268.7h0 M688.1 260.4h0 M688.3 270.9h0 M688.5 267.4h0 M688.7 265.1h0 M688.9 265.0h0 M689.1 263.9h0 M689.3 263.6h0 M689.5 264.9h0 M689.7 261.3h0 M689.9 270.2h0 M690.1 264.4h0 M690.3 266.3h0 M690.5 264.0h0 M690.7 263.8h0 M690.9 266.8h0 M691.1 266.1h0 M691.3 262.2h0 M691.5 263.4h0 M691.7 266.2h0 M691.9 258.9h0 M692.1 258.1h0 M692.3 268.3h0 M692.5 263.6h0 M692.7 257.6h0 M692.9 262.3h0 M693.1 263.8h0 M693.3 264.9h0 M693.5 265.8h0 M693.7 265.0h0 M693.9 265.9h0 M694.1 262.4h0 M694.3 265.5h0 M694.5 265.6h0 M694.7 267.6h0 M694.9 264.5h0 M695.1 266.8h0 M695.3 264.9h0 M695.5 261.6h0 M695.7 263.4h0 M695.9 263.0h0 M696.1 263.4h0 M696.3 264.2h0 M696.5 264.7h0 M696.7 265.2h0 M696.9 262.4h0 M697.1 267.3h0 M697.3 260.8h0 M697.5 264.3h0 M697.7 266.4h0 M697.9 265.7h0 M698.1 266.2h0 M698.3 264.0h0 M698.5 266.3h0 M698.7 261.3h0 M698.9 266.5h0 M699.1 270.5h0 M699.3 266.4h0 M699.5 269.8h0 M699.7 264.5h0 M699.9 261.6h0 M700.1 262.7h0 M700.3 268.0h0 M700.5 266.5h0 M700.7 259.6h0 M700.9 263.6h0 M701.1 264.4h0 M701.3 261.6h0 M701.5 257.8h0 M701.7 260.9h0 M701.9 264.0h0 M702.1 263.5h0 M702.3 262.8h0 M702.5 266.1h0 M702.7 267.3h0 M702.9 264.3h0 M703.1 267.0h0 M703.3 264.6h0 M703.5 264.2h0 M703.7 258.1h0 M703.9 266.7h0 M704.1 264.8h0 M704.3 264.9h0 M704.5 263.3h0 M704.7 261.6h0 M704.9 265.8h0 M705.1 266.7h0 M705.3 268.9h0 M705.5 266.9h0 M705.7 263.0h0 M705.9 264.3h0 M706.1 267.2h0 M706.3 265.4h0 M706.5 264.4h0 M706.7 263.1h0 M706.9 266.0h0 M707.1 265.1h0 M707.3 269.4h0 M707.5 267.6h0 M707.7 260.1h0 M707.9 270.4h0 M708.1 265.4h0 M708.3 263.9h0 M708.5 265.5h0 M708.7 266.6h0 M708.9 264.6h0 M709.1 264.5h0 M709.3 264.7h0 M709.5 269.5h0 M709.7 264.9h0 M709.9 266.8h0 M710.1 265.9h0 M710.3 263.8h0 M710.5 262.7h0 M710.7 262.0h0 M710.9 265.8h0 M711.1 262.0h0 M711.3 261.3h0 M711.5 261.4h0 M711.7 260.7h0 M711.9 264.9h0 M712.1 264.9h0 M712.3 262.2h0 M712.5 268.2h0 M712.7 263.9h0 M712.9 265.9h0 M713.1 265.5h0 M713.3 269.2h0 M713.5 266.9h0 M713.7 264.5h0 M713.9 262.1h0 M714.1 261.8h0 M714.3 264.7h0 M714.5 265.0h0 M714.7 266.7h0 M714.9 263.4h0 M715.1 265.1h0 M715.3 262.8h0 M715.5 259.8h0 M715.7 264.6h0 M715.9 268.5h0 M716.1 266.8h0 M716.3 268.4h0 M716.5 267.7h0 M716.7 261.0h0 M716.9 263.9h0 M717.1 268.6h0 M717.3 262.7h0 M717.5 261.1h0 M717.7 265.5h0 M717.9 266.3h0 M718.1 265.4h0 M718.3 263.7h0 M718.5 262.8h0 M718.7 261.3h0 M718.9 261.2h0 M719.1 261.3h0 M719.3 260.8h0 M719.5 262.7h0 M719.7 268.6h0 M719.9 264.9h0 M720.1 263.7h0 M720.3 265.5h0 M720.5 262.0h0 M720.7 265.5h0 M720.9 267.0h0 M721.1 260.6h0 M721.3 262.7h0 M721.5 263.9h0 M721.7 262.0h0 M721.9 261.6h0 M722.1 263.6h0 M722.3 271.1h0 M722.5 266.3h0 M722.7 265.7h0 M722.9 267.2h0 M723.1 264.0h0 M723.3 261.3h0 M723.5 265.8h0 M723.7 267.6h0 M723.9 259.1h0 M724.1 265.7h0 M724.3 267.8h0 M724.5 263.9h0 M724.7 263.4h0 M724.9 266.4h0 M725.1 262.4h0 M725.3 265.8h0 M725.5 267.0h0 M725.7 264.0h0 M725.9 262.4h0 M726.1 266.2h0 M726.3 263.6h0 M726.5 264.8h0 M726.7 256.9h0 M726.9 266.4h0 M727.1 260.8h0 M727.3 264.7h0 M727.5 264.9h0 M727.7 262.6h0 M727.9 262.1h0 M728.1 261.1h0 M728.3 263.6h0 M728.5 266.2h0 M728.7 266.0h0 M728.9 263.2h0 M729.1 263.0h0 M729.3 260.8h0 M729.5 263.4h0 M729.7 261.7h0 M729.9 260.5h0 M730.1 264.1h0 M730.3 268.5h0 M730.5 267.7h0 M730.7 268.4h0 M730.9 260.3h0 M731.1 266.8h0 M731.3 261.2h0 M731.5 263.0h0 M731.7 259.9h0 M731.9 261.8h0 M732.1 264.8h0 M732.3 265.1h0 M732.5 264.3h0 M732.7 264.1h0 M732.9 266.0h0 M733.1 264.6h0 M733.3 260.2h0 M733.5 269.1h0 M733.7 263.9h0 M733.9 267.0h0 M734.1 264.1h0 M734.3 262.3h0 M734.5 264.7h0 M734.7 262.5h0 M734.9 268.8h0 M735.1 261.6h0 M735.3 266.2h0 M735.5 262.9h0 M735.7 264.1h0 M735.9 271.5h0 M736.1 266.6h0 M736.3 264.0h0 M736.5 260.4h0 M736.7 263.8h0 M736.9 263.9h0 M737.1 268.4h0 M737.3 260.7h0 M737.5 259.7h0 M737.7 264.5h0 M737.9 265.2h0 M738.1 268.9h0 M738.3 262.2h0 M738.5 257.3h0 M738.7 262.6h0 M738.9 261.2h0 M739.1 263.1h0 M739.3 267.2h0 M739.5 261.0h0 M739.7 267.9h0 M739.9 265.1h0 M740.1 263.8h0 M740.3 262.2h0 M740.5 263.5h0 M740.7 263.5h0 M740.9 266.6h0 M741.1 268.1h0 M741.3 264.4h0 M741.5 266.5h0 M741.7 268.1h0 M741.9 268.0h0 M742.1 265.9h0 M742.3 269.6h0 M742.5 268.2h0 M742.7 269.0h0 M742.9 264.1h0 M743.1 263.5h0 M743.3 259.2h0 M743.5 268.6h0 M743.7 266.4h0 M743.9 262.1h0 M744.1 265.2h0 M744.3 265.5h0 M744.5 260.0h0 M744.7 265.5h0 M744.9 267.7h0 M745.1 268.1h0 M745.3 263.7h0 M745.5 263.8h0 M745.7 268.3h0 M745.9 267.3h0 M746.1 263.2h0 M746.3 263.1h0 M746.5 266.3h0 M746.7 262.9h0 M746.9 263.1h0 M747.1 269.4h0 M747.3 265.5h0 M747.5 263.5h0 M747.7 266.2h0 M747.9 270.4h0 M748.1 265.4h0 M748.3 262.6h0 M748.5 260.4h0 M748.7 270.5h0 M748.9 257.6h0 M749.1 267.7h0 M749.3 262.0h0 M749.5 261.3h0 M749.7 262.0h0 M749.9 264.2h0 M750.1 267.7h0 M750.3 262.9h0 M750.5 266.6h0 M750.7 271.4h0 M750.9 257.0h0 M751.1 262.7h0 M751.3 259.7h0 M751.5 267.1h0 M751.7 260.7h0 M751.9 260.4h0 M752.1 260.5h0 M752.3 264.7h0 M752.5 267.9h0 M752.7 265.1h0 M752.9 270.6h0 M753.1 269.2h0 M753.3 264.4h0 M753.5 267.3h0 M753.7 265.1h0 M753.9 264.9h0 M754.1 259.4h0 M754.3 261.2h0 M754.5 264.8h0 M754.7 261.4h0 M754.9 266.7h0 M755.1 265.6h0 M755.3 262.2h0 M755.5 268.0h0 M755.7 265.4h0 M755.9 268.2h0 M756.1 264.3h0 M756.3 260.3h0 M756.5 266.7h0 M756.7 264.0h0 M756.9 267.1h0 M757.1 267.7h0 M757.3 268.0h0 M757.5 260.7h0 M757.7 258.3h0 M757.9 263.4h0 M758.1 266.6h0 M758.3 262.8h0 M758.5 265.6h0 M758.7 262.5h0 M758.9 263.9h0 M759.1 263.9h0 M759.3 263.0h0 M759.5 266.2h0 M759.7 265.8h0 M759.9 269.3h0 M760.1 265.9h0 M760.3 268.5h0 M760.5 265.1h0" stroke="#ff0000" stroke-width="2.1" stroke-linecap="round" fill="none"/>
<path d="M617.3 58.2h0 M618.0 59.7h0 M618.6 58.6h0 M619.3 59.1h0 M620.0 48.7h0 M620.6 65.0h0 M621.3 67.8h0 M622.0 64.8h0 M622.6 66.5h0 M623.3 54.9h0 M624.0 54.4h0 M624.6 64.2h0 M625.3 66.6h0 M626.0 60.8h0 M626.6 51.0h0 M627.3 74.4h0 M627.9 55.7h0 M628.6 64.5h0 M629.3 52.7h0 M629.9 64.4h0 M630.6 60.0h0 M631.3 66.7h0 M631.9 63.7h0 M632.6 50.4h0 M633.3 53.5h0 M633.9 60.3h0 M634.6 62.9h0 M635.3 68.6h0 M635.9 60.1h0 M636.6 58.0h0 M637.3 58.2h0 M637.9 58.2h0 M638.6 63.9h0 M639.3 57.9h0 M639.9 57.7h0 M640.6 50.2h0 M641.3 46.9h0 M641.9 58.1h0 M642.6 61.6h0 M643.3 57.6h0 M643.9 60.6h0 M644.6 61.5h0 M645.3 57.8h0 M645.9 63.5h0 M646.6 54.4h0 M647.2 58.6h0 M647.9 56.8h0 M648.6 59.4h0 M649.2 62.6h0 M649.9 64.0h0 M650.6 60.2h0 M651.2 62.1h0 M651.9 57.9h0 M652.6 59.4h0 M653.2 67.1h0 M653.9 59.3h0 M654.6 67.3h0 M655.2 63.4h0 M655.9 61.8h0 M656.6 71.8h0 M657.2 60.0h0 M657.9 59.9h0 M658.6 61.7h0 M659.2 63.4h0 M659.9 63.2h0 M660.6 66.7h0 M661.2 63.0h0 M661.9 64.7h0 M662.6 61.4h0 M663.2 68.6h0 M663.9 60.9h0 M664.6 61.6h0 M665.2 63.3h0 M665.9 65.1h0 M666.5 59.9h0 M667.2 72.0h0 M667.9 60.7h0 M668.5 62.1h0 M669.2 62.0h0 M669.9 61.7h0 M670.5 67.4h0 M671.2 65.8h0 M671.9 61.6h0 M672.5 63.3h0 M673.2 65.1h0 M673.9 74.7h0 M674.5 64.5h0 M675.2 61.8h0 M675.9 63.2h0 M676.5 67.8h0 M677.2 77.5h0 M677.9 65.3h0 M678.5 71.4h0 M679.2 84.0h0 M679.9 69.9h0 M680.5 79.9h0 M681.2 79.4h0 M681.9 76.7h0 M682.5 67.8h0 M683.2 76.5h0 M683.8 73.9h0 M684.5 67.6h0 M685.2 69.2h0 M685.8 78.2h0 M686.5 79.7h0 M687.2 85.4h0 M687.8 83.5h0 M688.5 79.2h0 M689.2 80.2h0 M689.8 82.3h0 M690.5 79.2h0 M691.2 88.0h0 M691.8 85.6h0 M692.5 83.0h0 M693.2 84.5h0 M693.8 83.2h0 M694.5 87.0h0 M695.2 90.9h0 M695.8 88.9h0 M696.5 95.5h0 M697.2 98.9h0 M697.8 90.8h0 M698.5 94.5h0 M699.2 94.1h0 M699.8 103.2h0 M700.5 99.0h0 M701.2 100.9h0 M701.8 103.0h0 M702.5 109.4h0 M703.1 103.1h0 M703.8 99.6h0 M704.5 102.6h0 M705.1 107.3h0 M705.8 106.2h0 M706.5 104.6h0 M707.1 118.0h0 M707.8 109.9h0 M708.5 108.7h0 M709.1 109.3h0 M709.8 107.1h0 M710.5 110.1h0 M711.1 113.7h0 M711.8 114.6h0 M712.5 114.0h0 M713.1 119.1h0 M713.8 118.4h0 M714.5 116.5h0 M715.1 114.2h0 M715.8 121.5h0 M716.5 122.1h0 M717.1 122.3h0 M717.8 119.9h0 M718.5 124.7h0 M719.1 121.5h0 M719.8 129.1h0 M720.5 127.8h0 M721.1 128.8h0 M721.8 127.1h0 M722.4 127.4h0 M723.1 134.8h0 M723.8 134.1h0 M724.4 131.3h0 M725.1 134.0h0 M725.8 136.4h0 M726.4 130.4h0 M727.1 132.0h0 M727.8 132.3h0 M728.4 135.0h0 M729.1 131.6h0 M729.8 134.9h0 M730.4 132.0h0 M731.1 137.1h0 M731.8 137.2h0 M732.4 135.0h0 M733.1 137.4h0 M733.8 134.4h0 M734.4 135.7h0 M735.1 138.7h0 M735.8 136.7h0 M736.4 137.9h0 M737.1 135.3h0 M737.8 138.9h0 M738.4 138.5h0 M739.1 134.9h0 M739.8 132.6h0 M740.4 133.3h0 M741.1 137.7h0 M741.7 137.4h0 M742.4 134.5h0 M743.1 138.3h0 M743.7 140.3h0 M744.4 137.9h0 M745.1 137.3h0 M745.7 140.2h0 M746.4 142.1h0 M747.1 141.7h0 M747.7 137.1h0 M748.4 140.3h0 M749.1 139.0h0 M749.7 138.3h0 M750.4 137.5h0 M751.1 139.6h0 M751.7 137.8h0 M752.4 140.9h0 M753.1 139.7h0 M753.7 141.2h0 M754.4 136.5h0 M755.1 139.0h0 M755.7 140.6h0 M756.4 139.8h0 M757.1 139.5h0 M757.7 137.5h0 M758.4 142.6h0 M759.1 141.4h0 M759.7 139.9h0 M760.4 133.6h0 M761.0 137.0h0 M761.7 139.4h0 M762.4 137.6h0 M763.0 134.7h0 M763.7 139.7h0 M764.4 140.0h0 M765.0 136.6h0 M765.7 138.2h0 M766.4 137.8h0 M767.0 140.4h0 M767.7 135.1h0 M768.4 135.6h0 M769.0 138.1h0 M769.7 137.9h0 M770.4 143.8h0 M771.0 138.0h0 M771.7 139.9h0 M772.4 138.5h0 M773.0 138.0h0 M773.7 140.2h0 M774.4 143.2h0 M775.0 138.7h0 M775.7 141.2h0 M776.4 140.3h0 M777.0 140.9h0" stroke="#ff0000" stroke-width="2.0" stroke-linecap="round" fill="none"/>
<path d="M568.5 140.6L614.8 37M617.3 296.5L777 166" stroke="#7a7a7a" stroke-width="1" stroke-dasharray="5.5 3.6" fill="none"/>
</svg></body></html>
